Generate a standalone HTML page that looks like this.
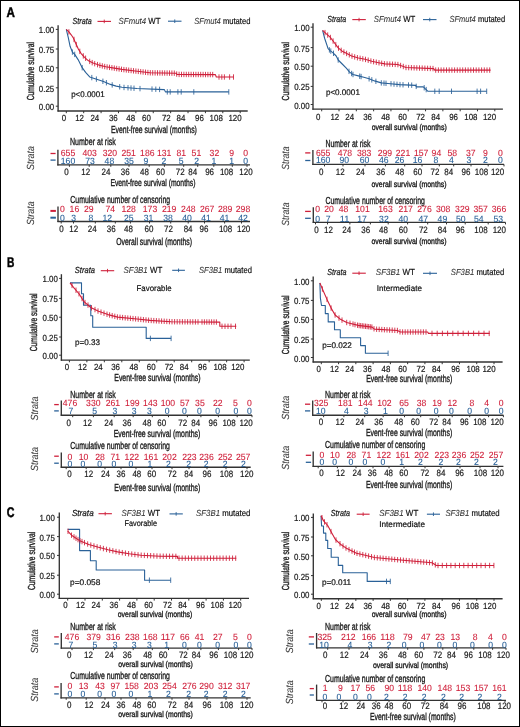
<!DOCTYPE html>
<html><head><meta charset="utf-8"><title>Figure</title>
<style>
html,body{margin:0;padding:0;background:#fff;}
body{width:520px;height:727px;overflow:hidden;}
#fig{position:absolute;left:0;top:0;width:520px;height:727px;box-sizing:border-box;border:1px solid #000;background:#fff;}
svg{position:absolute;left:0;top:0;}
svg text{font-family:"Liberation Sans", sans-serif;text-rendering:geometricPrecision;}
svg{will-change:transform;}
</style></head><body>
<div id="fig"></div>
<svg width="520" height="727" viewBox="0 0 520 727" fill="#1a1a1a">
<line x1="58.1" y1="25.3" x2="58.1" y2="111.6" stroke="#333333" stroke-width="1.35"/>
<line x1="57.5" y1="111" x2="247.7" y2="111" stroke="#333333" stroke-width="1.35"/>
<line x1="55.8" y1="29.4" x2="58.1" y2="29.4" stroke="#333333" stroke-width="1"/>
<text x="54.2" y="33.4" font-size="8.8" text-anchor="end" textLength="15.41" lengthAdjust="spacingAndGlyphs" stroke="#1a1a1a" stroke-width="0.2">1.00</text>
<line x1="55.8" y1="49" x2="58.1" y2="49" stroke="#333333" stroke-width="1"/>
<text x="54.2" y="53" font-size="8.8" text-anchor="end" textLength="15.41" lengthAdjust="spacingAndGlyphs" stroke="#1a1a1a" stroke-width="0.2">0.75</text>
<line x1="55.8" y1="67.8" x2="58.1" y2="67.8" stroke="#333333" stroke-width="1"/>
<text x="54.2" y="71.8" font-size="8.8" text-anchor="end" textLength="15.41" lengthAdjust="spacingAndGlyphs" stroke="#1a1a1a" stroke-width="0.2">0.50</text>
<line x1="55.8" y1="87.8" x2="58.1" y2="87.8" stroke="#333333" stroke-width="1"/>
<text x="54.2" y="91.8" font-size="8.8" text-anchor="end" textLength="15.41" lengthAdjust="spacingAndGlyphs" stroke="#1a1a1a" stroke-width="0.2">0.25</text>
<line x1="55.8" y1="106.2" x2="58.1" y2="106.2" stroke="#333333" stroke-width="1"/>
<text x="54.2" y="110.2" font-size="8.8" text-anchor="end" textLength="15.41" lengthAdjust="spacingAndGlyphs" stroke="#1a1a1a" stroke-width="0.2">0.00</text>
<text x="34.1" y="71.2" font-size="10.2" text-anchor="middle" textLength="58.3" lengthAdjust="spacingAndGlyphs" transform="rotate(-90 34.1 71.2)" stroke="#1a1a1a" stroke-width="0.35">Cumulative survival</text>
<line x1="66.3" y1="111" x2="66.3" y2="113.2" stroke="#333333" stroke-width="1"/>
<text x="64" y="120.8" font-size="8.8" text-anchor="middle" textLength="4.4" lengthAdjust="spacingAndGlyphs" stroke="#1a1a1a" stroke-width="0.2">0</text>
<line x1="83.69" y1="111" x2="83.69" y2="113.2" stroke="#333333" stroke-width="1"/>
<text x="79.6" y="120.8" font-size="8.8" text-anchor="middle" textLength="8.81" lengthAdjust="spacingAndGlyphs" stroke="#1a1a1a" stroke-width="0.2">12</text>
<line x1="101.08" y1="111" x2="101.08" y2="113.2" stroke="#333333" stroke-width="1"/>
<text x="94.8" y="120.8" font-size="8.8" text-anchor="middle" textLength="8.81" lengthAdjust="spacingAndGlyphs" stroke="#1a1a1a" stroke-width="0.2">24</text>
<line x1="118.47" y1="111" x2="118.47" y2="113.2" stroke="#333333" stroke-width="1"/>
<text x="113.3" y="120.8" font-size="8.8" text-anchor="middle" textLength="8.81" lengthAdjust="spacingAndGlyphs" stroke="#1a1a1a" stroke-width="0.2">36</text>
<line x1="135.86" y1="111" x2="135.86" y2="113.2" stroke="#333333" stroke-width="1"/>
<text x="130.7" y="120.8" font-size="8.8" text-anchor="middle" textLength="8.81" lengthAdjust="spacingAndGlyphs" stroke="#1a1a1a" stroke-width="0.2">48</text>
<line x1="153.25" y1="111" x2="153.25" y2="113.2" stroke="#333333" stroke-width="1"/>
<text x="146.5" y="120.8" font-size="8.8" text-anchor="middle" textLength="8.81" lengthAdjust="spacingAndGlyphs" stroke="#1a1a1a" stroke-width="0.2">60</text>
<line x1="170.64" y1="111" x2="170.64" y2="113.2" stroke="#333333" stroke-width="1"/>
<text x="166.3" y="120.8" font-size="8.8" text-anchor="middle" textLength="8.81" lengthAdjust="spacingAndGlyphs" stroke="#1a1a1a" stroke-width="0.2">72</text>
<line x1="188.03" y1="111" x2="188.03" y2="113.2" stroke="#333333" stroke-width="1"/>
<text x="180.9" y="120.8" font-size="8.8" text-anchor="middle" textLength="8.81" lengthAdjust="spacingAndGlyphs" stroke="#1a1a1a" stroke-width="0.2">84</text>
<line x1="205.42" y1="111" x2="205.42" y2="113.2" stroke="#333333" stroke-width="1"/>
<text x="199.4" y="120.8" font-size="8.8" text-anchor="middle" textLength="8.81" lengthAdjust="spacingAndGlyphs" stroke="#1a1a1a" stroke-width="0.2">96</text>
<line x1="222.81" y1="111" x2="222.81" y2="113.2" stroke="#333333" stroke-width="1"/>
<text x="216.2" y="120.8" font-size="8.8" text-anchor="middle" textLength="13.21" lengthAdjust="spacingAndGlyphs" stroke="#1a1a1a" stroke-width="0.2">108</text>
<line x1="240.2" y1="111" x2="240.2" y2="113.2" stroke="#333333" stroke-width="1"/>
<text x="235" y="120.8" font-size="8.8" text-anchor="middle" textLength="13.21" lengthAdjust="spacingAndGlyphs" stroke="#1a1a1a" stroke-width="0.2">120</text>
<text x="111" y="133.3" font-size="10.2" textLength="85.9" lengthAdjust="spacingAndGlyphs" stroke="#1a1a1a" stroke-width="0.35">Event-free survival (months)</text>
<text x="71.2" y="96.6" font-size="8.2" fill="#111" textLength="33.4" lengthAdjust="spacingAndGlyphs" stroke="#111" stroke-width="0.2">p&lt;0.0001</text>
<polyline points="66.3,29.3 68.3,37.7 70.1,46.3 72.4,52.1 74.7,54.4 78.1,59.6 82.2,67.7 85.6,72.3 89.7,76.9 96.6,79.2 103.5,81.5 110.4,84.4 116.2,86.1 122,87.3 137,88.5 164.4,89.6 165.4,91.9 228.8,91.9" fill="none" stroke="#2a6198" stroke-width="1.1" stroke-linejoin="round"/>
<path d="M72.4 49.4v5.4 M74.7 51.7v5.4 M82.2 65v5.4 M91.8 74.9v5.4 M96.4 76.43v5.4 M102.9 78.6v5.4 M106.4 80.02v5.4 M112.2 82.23v5.4 M119.7 84.12v5.4 M124 84.76v5.4 M128 85.08v5.4 M131 85.32v5.4 M134 85.56v5.4 M140 85.92v5.4 M152 86.4v5.4 M155.8 86.55v5.4 M159.6 86.71v5.4 M167.3 89.2v5.4 M170.2 89.2v5.4 M177.9 89.2v5.4 M181.2 89.2v5.4 M193.8 89.2v5.4 M228.8 89.2v5.4" stroke="#2a6198" stroke-width="0.85" fill="none"/>
<polyline points="66.3,29.3 68.9,31.9 71.2,34.8 73.5,38.3 75.8,43.5 78.1,48.6 81,53.3 84.5,57.3 88.5,60.8 93.1,63.1 98.9,65.1 105.8,66.8 112.8,67.9 122,69.4 135,71 150,72.8 176,73.2 177,74.4 215.4,74.6 216.3,77 233.7,77" fill="none" stroke="#cf1f3a" stroke-width="1.1" stroke-linejoin="round"/>
<path d="M68.9 29.2v5.4 M74 36.73v5.4 M76.3 41.91v5.4 M79.8 48.66v5.4 M83.3 53.23v5.4 M85.6 55.56v5.4 M89.7 58.7v5.4 M92.2 59.95v5.4 M94.7 60.95v5.4 M97.5 61.92v5.4 M99.9 62.65v5.4 M102.3 63.24v5.4 M104.7 63.83v5.4 M107.1 64.3v5.4 M109.5 64.68v5.4 M111.9 65.06v5.4 M114.3 65.44v5.4 M116.7 65.84v5.4 M119.1 66.23v5.4 M121.5 66.62v5.4 M123.9 66.93v5.4 M126.3 67.23v5.4 M128.7 67.52v5.4 M131.1 67.82v5.4 M133.5 68.12v5.4 M135.9 68.41v5.4 M138.3 68.7v5.4 M140.7 68.98v5.4 M143.1 69.27v5.4 M145.5 69.56v5.4 M147.9 69.85v5.4 M150.3 70.1v5.4 M152.7 70.14v5.4 M155.1 70.18v5.4 M157.5 70.22v5.4 M159.9 70.25v5.4 M162.3 70.29v5.4 M164.7 70.33v5.4 M167.1 70.36v5.4 M169.5 70.4v5.4 M171.9 70.44v5.4 M174.3 70.47v5.4 M176.7 71.34v5.4 M179.1 71.71v5.4 M181.5 71.72v5.4 M183.9 71.74v5.4 M186.3 71.75v5.4 M188.7 71.76v5.4 M191.1 71.77v5.4 M193.5 71.79v5.4 M195.9 71.8v5.4 M198.3 71.81v5.4 M200.7 71.82v5.4 M203.1 71.84v5.4 M205.5 71.85v5.4 M207.9 71.86v5.4 M210.3 71.87v5.4 M212.7 71.89v5.4 M219 74.3v5.4 M221.8 74.3v5.4 M224.4 74.3v5.4 M229.6 74.3v5.4 M233.5 74.3v5.4" stroke="#cf1f3a" stroke-width="0.85" fill="none"/>
<text x="72.5" y="24.1" font-size="8.8" fill="#111" font-style="italic" textLength="19.2" lengthAdjust="spacingAndGlyphs" stroke="#111" stroke-width="0.2">Strata</text>
<line x1="97.5" y1="21.4" x2="111" y2="21.4" stroke="#cf1f3a" stroke-width="1.1"/>
<line x1="104.25" y1="19.6" x2="104.25" y2="23.2" stroke="#cf1f3a" stroke-width="0.9"/>
<line x1="168" y1="21.2" x2="181.5" y2="21.2" stroke="#2a6198" stroke-width="1.1"/>
<line x1="174.75" y1="19.4" x2="174.75" y2="23" stroke="#2a6198" stroke-width="0.9"/>
<text x="118.6" y="24.1" font-size="8.8" textLength="41.9" lengthAdjust="spacingAndGlyphs" fill="#111" stroke="#111" stroke-width="0.2"><tspan font-style="italic" fill="#3a3a3a" stroke-width="0.08">SFmut4</tspan> WT</text>
<text x="194.2" y="24.1" font-size="8.8" textLength="56.2" lengthAdjust="spacingAndGlyphs" fill="#111" stroke="#111" stroke-width="0.2"><tspan font-style="italic" fill="#3a3a3a" stroke-width="0.08">SFmut4</tspan> mutated</text>
<line x1="313" y1="23.2" x2="313" y2="109.7" stroke="#333333" stroke-width="1.35"/>
<line x1="312.4" y1="109.1" x2="502.9" y2="109.1" stroke="#333333" stroke-width="1.35"/>
<line x1="310.7" y1="27.2" x2="313" y2="27.2" stroke="#333333" stroke-width="1"/>
<text x="309.6" y="31.2" font-size="8.8" text-anchor="end" textLength="15.41" lengthAdjust="spacingAndGlyphs" stroke="#1a1a1a" stroke-width="0.2">1.00</text>
<line x1="310.7" y1="47.6" x2="313" y2="47.6" stroke="#333333" stroke-width="1"/>
<text x="309.6" y="51.6" font-size="8.8" text-anchor="end" textLength="15.41" lengthAdjust="spacingAndGlyphs" stroke="#1a1a1a" stroke-width="0.2">0.75</text>
<line x1="310.7" y1="66.2" x2="313" y2="66.2" stroke="#333333" stroke-width="1"/>
<text x="309.6" y="70.2" font-size="8.8" text-anchor="end" textLength="15.41" lengthAdjust="spacingAndGlyphs" stroke="#1a1a1a" stroke-width="0.2">0.50</text>
<line x1="310.7" y1="86.4" x2="313" y2="86.4" stroke="#333333" stroke-width="1"/>
<text x="309.6" y="90.4" font-size="8.8" text-anchor="end" textLength="15.41" lengthAdjust="spacingAndGlyphs" stroke="#1a1a1a" stroke-width="0.2">0.25</text>
<line x1="310.7" y1="104.5" x2="313" y2="104.5" stroke="#333333" stroke-width="1"/>
<text x="309.6" y="108.5" font-size="8.8" text-anchor="end" textLength="15.41" lengthAdjust="spacingAndGlyphs" stroke="#1a1a1a" stroke-width="0.2">0.00</text>
<text x="289" y="71.2" font-size="10.2" text-anchor="middle" textLength="58.4" lengthAdjust="spacingAndGlyphs" transform="rotate(-90 289 71.2)" stroke="#1a1a1a" stroke-width="0.35">Cumulative survival</text>
<line x1="321.7" y1="109.1" x2="321.7" y2="111.3" stroke="#333333" stroke-width="1"/>
<text x="318.2" y="120" font-size="8.8" text-anchor="middle" textLength="4.4" lengthAdjust="spacingAndGlyphs" stroke="#1a1a1a" stroke-width="0.2">0</text>
<line x1="339.01" y1="109.1" x2="339.01" y2="111.3" stroke="#333333" stroke-width="1"/>
<text x="334.8" y="120" font-size="8.8" text-anchor="middle" textLength="8.81" lengthAdjust="spacingAndGlyphs" stroke="#1a1a1a" stroke-width="0.2">12</text>
<line x1="356.32" y1="109.1" x2="356.32" y2="111.3" stroke="#333333" stroke-width="1"/>
<text x="349.7" y="120" font-size="8.8" text-anchor="middle" textLength="8.81" lengthAdjust="spacingAndGlyphs" stroke="#1a1a1a" stroke-width="0.2">24</text>
<line x1="373.63" y1="109.1" x2="373.63" y2="111.3" stroke="#333333" stroke-width="1"/>
<text x="367.6" y="120" font-size="8.8" text-anchor="middle" textLength="8.81" lengthAdjust="spacingAndGlyphs" stroke="#1a1a1a" stroke-width="0.2">36</text>
<line x1="390.94" y1="109.1" x2="390.94" y2="111.3" stroke="#333333" stroke-width="1"/>
<text x="385.6" y="120" font-size="8.8" text-anchor="middle" textLength="8.81" lengthAdjust="spacingAndGlyphs" stroke="#1a1a1a" stroke-width="0.2">48</text>
<line x1="408.25" y1="109.1" x2="408.25" y2="111.3" stroke="#333333" stroke-width="1"/>
<text x="402.6" y="120" font-size="8.8" text-anchor="middle" textLength="8.81" lengthAdjust="spacingAndGlyphs" stroke="#1a1a1a" stroke-width="0.2">60</text>
<line x1="425.56" y1="109.1" x2="425.56" y2="111.3" stroke="#333333" stroke-width="1"/>
<text x="420.6" y="120" font-size="8.8" text-anchor="middle" textLength="8.81" lengthAdjust="spacingAndGlyphs" stroke="#1a1a1a" stroke-width="0.2">72</text>
<line x1="442.87" y1="109.1" x2="442.87" y2="111.3" stroke="#333333" stroke-width="1"/>
<text x="435.7" y="120" font-size="8.8" text-anchor="middle" textLength="8.81" lengthAdjust="spacingAndGlyphs" stroke="#1a1a1a" stroke-width="0.2">84</text>
<line x1="460.18" y1="109.1" x2="460.18" y2="111.3" stroke="#333333" stroke-width="1"/>
<text x="453.6" y="120" font-size="8.8" text-anchor="middle" textLength="8.81" lengthAdjust="spacingAndGlyphs" stroke="#1a1a1a" stroke-width="0.2">96</text>
<line x1="477.49" y1="109.1" x2="477.49" y2="111.3" stroke="#333333" stroke-width="1"/>
<text x="470.9" y="120" font-size="8.8" text-anchor="middle" textLength="13.21" lengthAdjust="spacingAndGlyphs" stroke="#1a1a1a" stroke-width="0.2">108</text>
<line x1="494.8" y1="109.1" x2="494.8" y2="111.3" stroke="#333333" stroke-width="1"/>
<text x="489.5" y="120" font-size="8.8" text-anchor="middle" textLength="13.21" lengthAdjust="spacingAndGlyphs" stroke="#1a1a1a" stroke-width="0.2">120</text>
<text x="371.7" y="129.7" font-size="8.4" textLength="75" lengthAdjust="spacingAndGlyphs" stroke="#1a1a1a" stroke-width="0.35">overall survival (months)</text>
<text x="325.9" y="94.5" font-size="8.2" fill="#111" textLength="34" lengthAdjust="spacingAndGlyphs" stroke="#111" stroke-width="0.2">p&lt;0.0001</text>
<polyline points="322.6,30.3 324.7,38.5 328.1,48.6 330.1,50.6 332.8,52.6 336.2,56 338.2,60 342.2,64 346.3,68.1 349.6,72.1 353,74.5 358.4,75.9 363.8,77.2 369.1,78.8 374.5,80.9 381.3,82.9 388,83.5 399.6,84.6 415.6,85.4 416.5,86.9 423.3,86.9 428,91.3 486.7,91.3" fill="none" stroke="#2a6198" stroke-width="1.1" stroke-linejoin="round"/>
<path d="M329.4 47.2v5.4 M330.8 48.42v5.4 M333.5 50.6v5.4 M338.2 57.3v5.4 M349 68.67v5.4 M351.6 70.81v5.4 M353 71.8v5.4 M359.7 73.51v5.4 M361.1 73.85v5.4 M369.1 76.1v5.4 M371.8 77.15v5.4 M375.9 78.61v5.4 M381.3 80.2v5.4 M384 80.44v5.4 M386 80.62v5.4 M391 81.08v5.4 M394 81.37v5.4 M397 81.65v5.4 M400 81.92v5.4 M403 82.07v5.4 M408.5 82.34v5.4 M411.7 82.5v5.4 M416.2 83.7v5.4 M424.2 85.04v5.4 M426.2 86.91v5.4 M434.8 88.6v5.4 M439.2 88.6v5.4 M451.5 88.6v5.4 M477.1 88.6v5.4 M480.6 88.6v5.4 M486.7 88.6v5.4" stroke="#2a6198" stroke-width="0.85" fill="none"/>
<polyline points="322.6,30.3 326.1,33.7 330.1,37.1 334.2,42.5 338.2,47.9 342.2,51.2 346.3,53.3 351.6,56 358.4,58 365.1,59.3 371.8,61.3 378.6,62.7 385,63.9 397.7,64.5 402,66 406,67.5 433.6,68.6 434.7,70.1 490.6,70.1" fill="none" stroke="#cf1f3a" stroke-width="1.1" stroke-linejoin="round"/>
<path d="M325 29.93v5.4 M327.7 32.36v5.4 M330.4 34.8v5.4 M333.1 38.35v5.4 M335.8 41.96v5.4 M338.5 45.45v5.4 M341.2 47.67v5.4 M343.9 49.37v5.4 M346.6 50.75v5.4 M349.3 52.13v5.4 M352 53.42v5.4 M354.7 54.21v5.4 M357.4 55.01v5.4 M360.1 55.63v5.4 M362.8 56.15v5.4 M365.5 56.72v5.4 M368.2 57.53v5.4 M370.9 58.33v5.4 M373.6 58.97v5.4 M376.3 59.53v5.4 M379 60.07v5.4 M381.7 60.58v5.4 M384.4 61.09v5.4 M387.1 61.3v5.4 M389.8 61.43v5.4 M392.5 61.55v5.4 M395.2 61.68v5.4 M397.9 61.87v5.4 M400.6 62.81v5.4 M403.3 63.79v5.4 M406 64.8v5.4 M408.7 64.91v5.4 M411.4 65.02v5.4 M414.1 65.12v5.4 M416.8 65.23v5.4 M419.5 65.34v5.4 M422.2 65.45v5.4 M424.9 65.55v5.4 M427.6 65.66v5.4 M430.3 65.77v5.4 M433 65.88v5.4 M435.7 67.4v5.4 M438.4 67.4v5.4 M441.1 67.4v5.4 M443.8 67.4v5.4 M446.5 67.4v5.4 M449.2 67.4v5.4 M451.9 67.4v5.4 M454.6 67.4v5.4 M457.3 67.4v5.4 M460 67.4v5.4 M462.7 67.4v5.4 M465.4 67.4v5.4 M468.1 67.4v5.4 M470.8 67.4v5.4 M473.5 67.4v5.4 M476.2 67.4v5.4 M478.9 67.4v5.4 M481.6 67.4v5.4 M484.3 67.4v5.4 M487 67.4v5.4 M489.7 67.4v5.4" stroke="#cf1f3a" stroke-width="0.85" fill="none"/>
<text x="327.3" y="22.1" font-size="8.8" fill="#111" font-style="italic" textLength="18.9" lengthAdjust="spacingAndGlyphs" stroke="#111" stroke-width="0.2">Strata</text>
<line x1="352.3" y1="19.6" x2="365.8" y2="19.6" stroke="#cf1f3a" stroke-width="1.1"/>
<line x1="359.05" y1="17.8" x2="359.05" y2="21.4" stroke="#cf1f3a" stroke-width="0.9"/>
<line x1="423" y1="19.6" x2="436.5" y2="19.6" stroke="#2a6198" stroke-width="1.1"/>
<line x1="429.75" y1="17.8" x2="429.75" y2="21.4" stroke="#2a6198" stroke-width="0.9"/>
<text x="373.8" y="22.1" font-size="8.8" textLength="41.4" lengthAdjust="spacingAndGlyphs" fill="#111" stroke="#111" stroke-width="0.2"><tspan font-style="italic" fill="#3a3a3a" stroke-width="0.08">SFmut4</tspan> WT</text>
<text x="449.4" y="22.1" font-size="8.8" textLength="55.8" lengthAdjust="spacingAndGlyphs" fill="#111" stroke="#111" stroke-width="0.2"><tspan font-style="italic" fill="#3a3a3a" stroke-width="0.08">SFmut4</tspan> mutated</text>
<line x1="61.4" y1="274.2" x2="61.4" y2="360.7" stroke="#333333" stroke-width="1.35"/>
<line x1="60.8" y1="360.1" x2="249.8" y2="360.1" stroke="#333333" stroke-width="1.35"/>
<line x1="59.1" y1="278.4" x2="61.4" y2="278.4" stroke="#333333" stroke-width="1"/>
<text x="57.9" y="282.4" font-size="8.8" text-anchor="end" textLength="15.41" lengthAdjust="spacingAndGlyphs" stroke="#1a1a1a" stroke-width="0.2">1.00</text>
<line x1="59.1" y1="298.4" x2="61.4" y2="298.4" stroke="#333333" stroke-width="1"/>
<text x="57.9" y="302.4" font-size="8.8" text-anchor="end" textLength="15.41" lengthAdjust="spacingAndGlyphs" stroke="#1a1a1a" stroke-width="0.2">0.75</text>
<line x1="59.1" y1="317.2" x2="61.4" y2="317.2" stroke="#333333" stroke-width="1"/>
<text x="57.9" y="321.2" font-size="8.8" text-anchor="end" textLength="15.41" lengthAdjust="spacingAndGlyphs" stroke="#1a1a1a" stroke-width="0.2">0.50</text>
<line x1="59.1" y1="337" x2="61.4" y2="337" stroke="#333333" stroke-width="1"/>
<text x="57.9" y="341" font-size="8.8" text-anchor="end" textLength="15.41" lengthAdjust="spacingAndGlyphs" stroke="#1a1a1a" stroke-width="0.2">0.25</text>
<line x1="59.1" y1="355.2" x2="61.4" y2="355.2" stroke="#333333" stroke-width="1"/>
<text x="57.9" y="359.2" font-size="8.8" text-anchor="end" textLength="15.41" lengthAdjust="spacingAndGlyphs" stroke="#1a1a1a" stroke-width="0.2">0.00</text>
<text x="36.9" y="322.3" font-size="10.2" text-anchor="middle" textLength="57.8" lengthAdjust="spacingAndGlyphs" transform="rotate(-90 36.9 322.3)" stroke="#1a1a1a" stroke-width="0.35">Cumulative survival</text>
<line x1="69.4" y1="360.1" x2="69.4" y2="362.3" stroke="#333333" stroke-width="1"/>
<text x="67" y="369.9" font-size="8.8" text-anchor="middle" textLength="4.4" lengthAdjust="spacingAndGlyphs" stroke="#1a1a1a" stroke-width="0.2">0</text>
<line x1="86.87" y1="360.1" x2="86.87" y2="362.3" stroke="#333333" stroke-width="1"/>
<text x="82.5" y="369.9" font-size="8.8" text-anchor="middle" textLength="8.81" lengthAdjust="spacingAndGlyphs" stroke="#1a1a1a" stroke-width="0.2">12</text>
<line x1="104.34" y1="360.1" x2="104.34" y2="362.3" stroke="#333333" stroke-width="1"/>
<text x="98.3" y="369.9" font-size="8.8" text-anchor="middle" textLength="8.81" lengthAdjust="spacingAndGlyphs" stroke="#1a1a1a" stroke-width="0.2">24</text>
<line x1="121.81" y1="360.1" x2="121.81" y2="362.3" stroke="#333333" stroke-width="1"/>
<text x="115.6" y="369.9" font-size="8.8" text-anchor="middle" textLength="8.81" lengthAdjust="spacingAndGlyphs" stroke="#1a1a1a" stroke-width="0.2">36</text>
<line x1="139.28" y1="360.1" x2="139.28" y2="362.3" stroke="#333333" stroke-width="1"/>
<text x="133.8" y="369.9" font-size="8.8" text-anchor="middle" textLength="8.81" lengthAdjust="spacingAndGlyphs" stroke="#1a1a1a" stroke-width="0.2">48</text>
<line x1="156.75" y1="360.1" x2="156.75" y2="362.3" stroke="#333333" stroke-width="1"/>
<text x="151.2" y="369.9" font-size="8.8" text-anchor="middle" textLength="8.81" lengthAdjust="spacingAndGlyphs" stroke="#1a1a1a" stroke-width="0.2">60</text>
<line x1="174.22" y1="360.1" x2="174.22" y2="362.3" stroke="#333333" stroke-width="1"/>
<text x="169.1" y="369.9" font-size="8.8" text-anchor="middle" textLength="8.81" lengthAdjust="spacingAndGlyphs" stroke="#1a1a1a" stroke-width="0.2">72</text>
<line x1="191.69" y1="360.1" x2="191.69" y2="362.3" stroke="#333333" stroke-width="1"/>
<text x="184.2" y="369.9" font-size="8.8" text-anchor="middle" textLength="8.81" lengthAdjust="spacingAndGlyphs" stroke="#1a1a1a" stroke-width="0.2">84</text>
<line x1="209.16" y1="360.1" x2="209.16" y2="362.3" stroke="#333333" stroke-width="1"/>
<text x="202.4" y="369.9" font-size="8.8" text-anchor="middle" textLength="8.81" lengthAdjust="spacingAndGlyphs" stroke="#1a1a1a" stroke-width="0.2">96</text>
<line x1="226.63" y1="360.1" x2="226.63" y2="362.3" stroke="#333333" stroke-width="1"/>
<text x="220" y="369.9" font-size="8.8" text-anchor="middle" textLength="13.21" lengthAdjust="spacingAndGlyphs" stroke="#1a1a1a" stroke-width="0.2">108</text>
<line x1="244.1" y1="360.1" x2="244.1" y2="362.3" stroke="#333333" stroke-width="1"/>
<text x="237.8" y="369.9" font-size="8.8" text-anchor="middle" textLength="13.21" lengthAdjust="spacingAndGlyphs" stroke="#1a1a1a" stroke-width="0.2">120</text>
<text x="114.3" y="380.6" font-size="10.2" textLength="86.2" lengthAdjust="spacingAndGlyphs" stroke="#1a1a1a" stroke-width="0.35">Event-free survival (months)</text>
<text x="75" y="345.4" font-size="8.2" fill="#111" textLength="25" lengthAdjust="spacingAndGlyphs" stroke="#111" stroke-width="0.2">p=0.33</text>
<text x="136.5" y="291" font-size="8.2" fill="#111" textLength="35.1" lengthAdjust="spacingAndGlyphs" stroke="#111" stroke-width="0.2">Favorable</text>
<polyline points="70,282.9 81.5,282.9 81.5,293.7 83.5,293.7 83.5,305.2 90.8,305.2 90.8,315.8 92.7,315.8 92.7,327.3 146.2,327.3 146.2,338.4 171.1,338.4" fill="none" stroke="#2a6198" stroke-width="1.1" stroke-linejoin="round"/>
<path d="M150.4 335.7v5.4 M171.1 335.7v5.4" stroke="#2a6198" stroke-width="0.85" fill="none"/>
<polyline points="70,282.9 73.5,287.3 79.2,294 84,301.7 90.8,307.5 98.5,311.3 108,314.6 117.7,317.1 137,319 150,320.4 171.1,321.7 219.8,322.1 219.8,326.3 236.3,326.3" fill="none" stroke="#cf1f3a" stroke-width="1.1" stroke-linejoin="round"/>
<path d="M72 282.71v5.4 M76 287.54v5.4 M79 291.06v5.4 M82 295.79v5.4 M85 299.85v5.4 M88 302.41v5.4 M91.5 305.15v5.4 M95 306.87v5.4 M98 308.35v5.4 M101 309.47v5.4 M104 310.51v5.4 M107 311.55v5.4 M109.6 312.31v5.4 M112.2 312.98v5.4 M114.8 313.65v5.4 M117.4 314.32v5.4 M120 314.63v5.4 M122.6 314.88v5.4 M125.2 315.14v5.4 M127.8 315.39v5.4 M130.4 315.65v5.4 M133 315.91v5.4 M135.6 316.16v5.4 M138.2 316.43v5.4 M140.8 316.71v5.4 M143.4 316.99v5.4 M146 317.27v5.4 M148.6 317.55v5.4 M151.2 317.77v5.4 M153.8 317.93v5.4 M156.4 318.09v5.4 M159 318.25v5.4 M161.6 318.41v5.4 M164.2 318.57v5.4 M166.8 318.74v5.4 M169.4 318.9v5.4 M172 319.01v5.4 M174.6 319.03v5.4 M177.2 319.05v5.4 M179.8 319.07v5.4 M182.4 319.09v5.4 M185 319.11v5.4 M187.6 319.14v5.4 M190.2 319.16v5.4 M192.8 319.18v5.4 M195.4 319.2v5.4 M198 319.22v5.4 M202 319.25v5.4 M204.4 319.27v5.4 M206.8 319.29v5.4 M209.2 319.31v5.4 M211.6 319.33v5.4 M214 319.35v5.4 M216.4 319.37v5.4 M222 323.6v5.4 M225 323.6v5.4 M228 323.6v5.4 M231 323.6v5.4 M235.5 323.6v5.4" stroke="#cf1f3a" stroke-width="0.85" fill="none"/>
<text x="74.8" y="273.1" font-size="8.8" fill="#111" font-style="italic" textLength="20.2" lengthAdjust="spacingAndGlyphs" stroke="#111" stroke-width="0.2">Strata</text>
<line x1="100.8" y1="270.7" x2="114.2" y2="270.7" stroke="#cf1f3a" stroke-width="1.1"/>
<line x1="107.5" y1="268.9" x2="107.5" y2="272.5" stroke="#cf1f3a" stroke-width="0.9"/>
<line x1="172.2" y1="270.3" x2="184.9" y2="270.3" stroke="#2a6198" stroke-width="1.1"/>
<line x1="178.55" y1="268.5" x2="178.55" y2="272.1" stroke="#2a6198" stroke-width="0.9"/>
<text x="123.5" y="273.1" font-size="8.8" textLength="38.8" lengthAdjust="spacingAndGlyphs" fill="#111" stroke="#111" stroke-width="0.2"><tspan font-style="italic" fill="#3a3a3a" stroke-width="0.08">SF3B1</tspan> WT</text>
<text x="199" y="273.1" font-size="8.8" textLength="52.9" lengthAdjust="spacingAndGlyphs" fill="#111" stroke="#111" stroke-width="0.2"><tspan font-style="italic" fill="#3a3a3a" stroke-width="0.08">SF3B1</tspan> mutated</text>
<line x1="313.2" y1="276.4" x2="313.2" y2="362.6" stroke="#333333" stroke-width="1.35"/>
<line x1="312.6" y1="362" x2="502.6" y2="362" stroke="#333333" stroke-width="1.35"/>
<line x1="310.9" y1="280.8" x2="313.2" y2="280.8" stroke="#333333" stroke-width="1"/>
<text x="309.5" y="284.8" font-size="8.8" text-anchor="end" textLength="15.41" lengthAdjust="spacingAndGlyphs" stroke="#1a1a1a" stroke-width="0.2">1.00</text>
<line x1="310.9" y1="300.4" x2="313.2" y2="300.4" stroke="#333333" stroke-width="1"/>
<text x="309.5" y="304.4" font-size="8.8" text-anchor="end" textLength="15.41" lengthAdjust="spacingAndGlyphs" stroke="#1a1a1a" stroke-width="0.2">0.75</text>
<line x1="310.9" y1="319.4" x2="313.2" y2="319.4" stroke="#333333" stroke-width="1"/>
<text x="309.5" y="323.4" font-size="8.8" text-anchor="end" textLength="15.41" lengthAdjust="spacingAndGlyphs" stroke="#1a1a1a" stroke-width="0.2">0.50</text>
<line x1="310.9" y1="339" x2="313.2" y2="339" stroke="#333333" stroke-width="1"/>
<text x="309.5" y="343" font-size="8.8" text-anchor="end" textLength="15.41" lengthAdjust="spacingAndGlyphs" stroke="#1a1a1a" stroke-width="0.2">0.25</text>
<line x1="310.9" y1="357.5" x2="313.2" y2="357.5" stroke="#333333" stroke-width="1"/>
<text x="309.5" y="361.5" font-size="8.8" text-anchor="end" textLength="15.41" lengthAdjust="spacingAndGlyphs" stroke="#1a1a1a" stroke-width="0.2">0.00</text>
<text x="289.2" y="324.9" font-size="10.2" text-anchor="middle" textLength="58.6" lengthAdjust="spacingAndGlyphs" transform="rotate(-90 289.2 324.9)" stroke="#1a1a1a" stroke-width="0.35">Cumulative survival</text>
<line x1="321.3" y1="362" x2="321.3" y2="364.2" stroke="#333333" stroke-width="1"/>
<text x="318.7" y="372.2" font-size="8.8" text-anchor="middle" textLength="4.4" lengthAdjust="spacingAndGlyphs" stroke="#1a1a1a" stroke-width="0.2">0</text>
<line x1="338.57" y1="362" x2="338.57" y2="364.2" stroke="#333333" stroke-width="1"/>
<text x="334.4" y="372.2" font-size="8.8" text-anchor="middle" textLength="8.81" lengthAdjust="spacingAndGlyphs" stroke="#1a1a1a" stroke-width="0.2">12</text>
<line x1="355.84" y1="362" x2="355.84" y2="364.2" stroke="#333333" stroke-width="1"/>
<text x="349.7" y="372.2" font-size="8.8" text-anchor="middle" textLength="8.81" lengthAdjust="spacingAndGlyphs" stroke="#1a1a1a" stroke-width="0.2">24</text>
<line x1="373.11" y1="362" x2="373.11" y2="364.2" stroke="#333333" stroke-width="1"/>
<text x="367.5" y="372.2" font-size="8.8" text-anchor="middle" textLength="8.81" lengthAdjust="spacingAndGlyphs" stroke="#1a1a1a" stroke-width="0.2">36</text>
<line x1="390.38" y1="362" x2="390.38" y2="364.2" stroke="#333333" stroke-width="1"/>
<text x="386" y="372.2" font-size="8.8" text-anchor="middle" textLength="8.81" lengthAdjust="spacingAndGlyphs" stroke="#1a1a1a" stroke-width="0.2">48</text>
<line x1="407.65" y1="362" x2="407.65" y2="364.2" stroke="#333333" stroke-width="1"/>
<text x="402.6" y="372.2" font-size="8.8" text-anchor="middle" textLength="8.81" lengthAdjust="spacingAndGlyphs" stroke="#1a1a1a" stroke-width="0.2">60</text>
<line x1="424.92" y1="362" x2="424.92" y2="364.2" stroke="#333333" stroke-width="1"/>
<text x="421" y="372.2" font-size="8.8" text-anchor="middle" textLength="8.81" lengthAdjust="spacingAndGlyphs" stroke="#1a1a1a" stroke-width="0.2">72</text>
<line x1="442.19" y1="362" x2="442.19" y2="364.2" stroke="#333333" stroke-width="1"/>
<text x="436.4" y="372.2" font-size="8.8" text-anchor="middle" textLength="8.81" lengthAdjust="spacingAndGlyphs" stroke="#1a1a1a" stroke-width="0.2">84</text>
<line x1="459.46" y1="362" x2="459.46" y2="364.2" stroke="#333333" stroke-width="1"/>
<text x="455.6" y="372.2" font-size="8.8" text-anchor="middle" textLength="8.81" lengthAdjust="spacingAndGlyphs" stroke="#1a1a1a" stroke-width="0.2">96</text>
<line x1="476.73" y1="362" x2="476.73" y2="364.2" stroke="#333333" stroke-width="1"/>
<text x="473.1" y="372.2" font-size="8.8" text-anchor="middle" textLength="13.21" lengthAdjust="spacingAndGlyphs" stroke="#1a1a1a" stroke-width="0.2">108</text>
<line x1="494" y1="362" x2="494" y2="364.2" stroke="#333333" stroke-width="1"/>
<text x="489" y="372.2" font-size="8.8" text-anchor="middle" textLength="13.21" lengthAdjust="spacingAndGlyphs" stroke="#1a1a1a" stroke-width="0.2">120</text>
<text x="366.2" y="382" font-size="10.2" textLength="86" lengthAdjust="spacingAndGlyphs" stroke="#1a1a1a" stroke-width="0.35">Event-free survival (months)</text>
<text x="322.2" y="347.9" font-size="8.2" fill="#111" textLength="29.7" lengthAdjust="spacingAndGlyphs" stroke="#111" stroke-width="0.2">p=0.022</text>
<text x="376.7" y="290.8" font-size="8.2" fill="#111" textLength="45.3" lengthAdjust="spacingAndGlyphs" stroke="#111" stroke-width="0.2">Intermediate</text>
<polyline points="319.9,282.9 320.1,289.6 320.4,298.2 321.5,305.5 325.3,305.5 325.3,313.6 328.2,313.6 328.2,321.9 334.5,321.9 334.5,329.8 340.3,329.8 340.3,337.8 360.6,337.8 360.6,345.6 365.4,345.6 365.4,353.3 388.1,353.3" fill="none" stroke="#2a6198" stroke-width="1.1" stroke-linejoin="round"/>
<path d="M388.1 350.6v5.4" stroke="#2a6198" stroke-width="0.85" fill="none"/>
<polyline points="319.9,282.9 322.4,289 327,299.4 331.1,308.1 335.1,315 340.9,319.6 346.7,322.5 358.2,325.4 372.1,327.1 374.4,329.1 397.5,330.5 400.3,332 427.7,332 428.5,333.4 489.7,333.4" fill="none" stroke="#cf1f3a" stroke-width="1.1" stroke-linejoin="round"/>
<path d="M322.4 286.3v5.4 M327 296.7v5.4 M331.1 305.4v5.4 M335.1 312.3v5.4 M339 315.39v5.4 M342 317.45v5.4 M346.7 319.8v5.4 M350 320.63v5.4 M353 321.39v5.4 M355 321.89v5.4 M357.5 322.52v5.4 M359.1 322.81v5.4 M360.7 323.01v5.4 M362.3 323.2v5.4 M363.9 323.4v5.4 M365.5 323.59v5.4 M367.1 323.79v5.4 M368.7 323.98v5.4 M370.3 324.18v5.4 M371.9 324.38v5.4 M374 326.05v5.4 M376.6 326.53v5.4 M379.2 326.69v5.4 M381.8 326.85v5.4 M384.4 327.01v5.4 M387 327.16v5.4 M389.6 327.32v5.4 M392.2 327.48v5.4 M394.8 327.64v5.4 M397.4 327.79v5.4 M400 329.14v5.4 M402.6 329.3v5.4 M405.2 329.3v5.4 M407.8 329.3v5.4 M410.4 329.3v5.4 M413 329.3v5.4 M415.6 329.3v5.4 M418.2 329.3v5.4 M420.8 329.3v5.4 M423.4 329.3v5.4 M426 329.3v5.4 M432 330.7v5.4 M437.2 330.7v5.4 M442.4 330.7v5.4 M447.6 330.7v5.4 M452.8 330.7v5.4 M458 330.7v5.4 M463.2 330.7v5.4 M468.4 330.7v5.4 M473.6 330.7v5.4 M478.8 330.7v5.4 M484 330.7v5.4 M489.2 330.7v5.4" stroke="#cf1f3a" stroke-width="0.85" fill="none"/>
<text x="327.3" y="275.4" font-size="8.8" fill="#111" font-style="italic" textLength="19.2" lengthAdjust="spacingAndGlyphs" stroke="#111" stroke-width="0.2">Strata</text>
<line x1="352.3" y1="273.2" x2="365.8" y2="273.2" stroke="#cf1f3a" stroke-width="1.1"/>
<line x1="359.05" y1="271.4" x2="359.05" y2="275" stroke="#cf1f3a" stroke-width="0.9"/>
<line x1="423" y1="273.3" x2="437" y2="273.3" stroke="#2a6198" stroke-width="1.1"/>
<line x1="430" y1="271.5" x2="430" y2="275.1" stroke="#2a6198" stroke-width="0.9"/>
<text x="375.8" y="275.4" font-size="8.8" textLength="39.2" lengthAdjust="spacingAndGlyphs" fill="#111" stroke="#111" stroke-width="0.2"><tspan font-style="italic" fill="#3a3a3a" stroke-width="0.08">SF3B1</tspan> WT</text>
<text x="450.8" y="275.4" font-size="8.8" textLength="53.4" lengthAdjust="spacingAndGlyphs" fill="#111" stroke="#111" stroke-width="0.2"><tspan font-style="italic" fill="#3a3a3a" stroke-width="0.08">SF3B1</tspan> mutated</text>
<line x1="59.3" y1="512.6" x2="59.3" y2="599" stroke="#333333" stroke-width="1.35"/>
<line x1="58.7" y1="598.4" x2="249" y2="598.4" stroke="#333333" stroke-width="1.35"/>
<line x1="57" y1="517.2" x2="59.3" y2="517.2" stroke="#333333" stroke-width="1"/>
<text x="54.8" y="521.2" font-size="8.8" text-anchor="end" textLength="15.41" lengthAdjust="spacingAndGlyphs" stroke="#1a1a1a" stroke-width="0.2">1.00</text>
<line x1="57" y1="536.6" x2="59.3" y2="536.6" stroke="#333333" stroke-width="1"/>
<text x="54.8" y="540.6" font-size="8.8" text-anchor="end" textLength="15.41" lengthAdjust="spacingAndGlyphs" stroke="#1a1a1a" stroke-width="0.2">0.75</text>
<line x1="57" y1="555.4" x2="59.3" y2="555.4" stroke="#333333" stroke-width="1"/>
<text x="54.8" y="559.4" font-size="8.8" text-anchor="end" textLength="15.41" lengthAdjust="spacingAndGlyphs" stroke="#1a1a1a" stroke-width="0.2">0.50</text>
<line x1="57" y1="575.2" x2="59.3" y2="575.2" stroke="#333333" stroke-width="1"/>
<text x="54.8" y="579.2" font-size="8.8" text-anchor="end" textLength="15.41" lengthAdjust="spacingAndGlyphs" stroke="#1a1a1a" stroke-width="0.2">0.25</text>
<line x1="57" y1="594.2" x2="59.3" y2="594.2" stroke="#333333" stroke-width="1"/>
<text x="54.8" y="598.2" font-size="8.8" text-anchor="end" textLength="15.41" lengthAdjust="spacingAndGlyphs" stroke="#1a1a1a" stroke-width="0.2">0.00</text>
<text x="35.1" y="560.9" font-size="10.2" text-anchor="middle" textLength="58.3" lengthAdjust="spacingAndGlyphs" transform="rotate(-90 35.1 560.9)" stroke="#1a1a1a" stroke-width="0.35">Cumulative survival</text>
<line x1="67.7" y1="598.4" x2="67.7" y2="600.6" stroke="#333333" stroke-width="1"/>
<text x="65.4" y="608.4" font-size="8.8" text-anchor="middle" textLength="4.4" lengthAdjust="spacingAndGlyphs" stroke="#1a1a1a" stroke-width="0.2">0</text>
<line x1="85" y1="598.4" x2="85" y2="600.6" stroke="#333333" stroke-width="1"/>
<text x="80.4" y="608.4" font-size="8.8" text-anchor="middle" textLength="8.81" lengthAdjust="spacingAndGlyphs" stroke="#1a1a1a" stroke-width="0.2">12</text>
<line x1="102.3" y1="598.4" x2="102.3" y2="600.6" stroke="#333333" stroke-width="1"/>
<text x="96" y="608.4" font-size="8.8" text-anchor="middle" textLength="8.81" lengthAdjust="spacingAndGlyphs" stroke="#1a1a1a" stroke-width="0.2">24</text>
<line x1="119.6" y1="598.4" x2="119.6" y2="600.6" stroke="#333333" stroke-width="1"/>
<text x="113.9" y="608.4" font-size="8.8" text-anchor="middle" textLength="8.81" lengthAdjust="spacingAndGlyphs" stroke="#1a1a1a" stroke-width="0.2">36</text>
<line x1="136.9" y1="598.4" x2="136.9" y2="600.6" stroke="#333333" stroke-width="1"/>
<text x="131.5" y="608.4" font-size="8.8" text-anchor="middle" textLength="8.81" lengthAdjust="spacingAndGlyphs" stroke="#1a1a1a" stroke-width="0.2">48</text>
<line x1="154.2" y1="598.4" x2="154.2" y2="600.6" stroke="#333333" stroke-width="1"/>
<text x="148.6" y="608.4" font-size="8.8" text-anchor="middle" textLength="8.81" lengthAdjust="spacingAndGlyphs" stroke="#1a1a1a" stroke-width="0.2">60</text>
<line x1="171.5" y1="598.4" x2="171.5" y2="600.6" stroke="#333333" stroke-width="1"/>
<text x="167.5" y="608.4" font-size="8.8" text-anchor="middle" textLength="8.81" lengthAdjust="spacingAndGlyphs" stroke="#1a1a1a" stroke-width="0.2">72</text>
<line x1="188.8" y1="598.4" x2="188.8" y2="600.6" stroke="#333333" stroke-width="1"/>
<text x="182.6" y="608.4" font-size="8.8" text-anchor="middle" textLength="8.81" lengthAdjust="spacingAndGlyphs" stroke="#1a1a1a" stroke-width="0.2">84</text>
<line x1="206.1" y1="598.4" x2="206.1" y2="600.6" stroke="#333333" stroke-width="1"/>
<text x="200.5" y="608.4" font-size="8.8" text-anchor="middle" textLength="8.81" lengthAdjust="spacingAndGlyphs" stroke="#1a1a1a" stroke-width="0.2">96</text>
<line x1="223.4" y1="598.4" x2="223.4" y2="600.6" stroke="#333333" stroke-width="1"/>
<text x="217.2" y="608.4" font-size="8.8" text-anchor="middle" textLength="13.21" lengthAdjust="spacingAndGlyphs" stroke="#1a1a1a" stroke-width="0.2">108</text>
<line x1="240.7" y1="598.4" x2="240.7" y2="600.6" stroke="#333333" stroke-width="1"/>
<text x="235.1" y="608.4" font-size="8.8" text-anchor="middle" textLength="13.21" lengthAdjust="spacingAndGlyphs" stroke="#1a1a1a" stroke-width="0.2">120</text>
<text x="117.8" y="617" font-size="8.4" textLength="74.5" lengthAdjust="spacingAndGlyphs" stroke="#1a1a1a" stroke-width="0.35">overall survival (months)</text>
<text x="70" y="584.5" font-size="8.2" fill="#111" textLength="30.4" lengthAdjust="spacingAndGlyphs" stroke="#111" stroke-width="0.2">p=0.058</text>
<text x="124.4" y="525.8" font-size="8.2" fill="#111" textLength="32.7" lengthAdjust="spacingAndGlyphs" stroke="#111" stroke-width="0.2">Favorable</text>
<polyline points="67.7,529.4 79.6,529.4 79.6,550.6 90.4,550.6 90.4,560.8 96.2,560.8 96.2,570 144.6,570 144.6,580.2 170.7,580.2" fill="none" stroke="#2a6198" stroke-width="1.1" stroke-linejoin="round"/>
<path d="M149.4 577.5v5.4 M170.7 577.5v5.4" stroke="#2a6198" stroke-width="0.85" fill="none"/>
<polyline points="67.7,531 71.5,535.2 79.2,540.4 88.8,544.5 98.5,547.3 108,549.8 117.7,551.9 129.2,553.8 140.8,555.2 160,556.2 177.5,556.4 177.5,558.2 236.3,558.2" fill="none" stroke="#cf1f3a" stroke-width="1.1" stroke-linejoin="round"/>
<path d="M68 528.63v5.4 M71.5 532.5v5.4 M74 534.19v5.4 M76 535.54v5.4 M78 536.89v5.4 M80 538.04v5.4 M82 538.9v5.4 M84.5 539.96v5.4 M87.65 541.31v5.4 M90.8 542.38v5.4 M93.95 543.29v5.4 M97.1 544.2v5.4 M100.25 545.06v5.4 M103.4 545.89v5.4 M106.55 546.72v5.4 M109.7 547.47v5.4 M112.85 548.15v5.4 M116 548.83v5.4 M119.15 549.44v5.4 M122.3 549.96v5.4 M125.45 550.48v5.4 M128.6 551v5.4 M131.75 551.41v5.4 M134.9 551.79v5.4 M138.05 552.17v5.4 M141.2 552.52v5.4 M144.35 552.68v5.4 M147.5 552.85v5.4 M150.65 553.01v5.4 M153.8 553.18v5.4 M156.95 553.34v5.4 M160.1 553.5v5.4 M163.25 553.54v5.4 M166.4 553.57v5.4 M169.55 553.61v5.4 M172.7 553.65v5.4 M175.85 553.68v5.4 M179 555.5v5.4 M182.15 555.5v5.4 M185.3 555.5v5.4 M188.45 555.5v5.4 M191.6 555.5v5.4 M194.75 555.5v5.4 M197.9 555.5v5.4 M201.05 555.5v5.4 M204.2 555.5v5.4 M207.35 555.5v5.4 M210.5 555.5v5.4 M213.65 555.5v5.4 M216.8 555.5v5.4 M219.95 555.5v5.4 M223.1 555.5v5.4 M226.25 555.5v5.4 M229.4 555.5v5.4 M232.55 555.5v5.4 M235.7 555.5v5.4" stroke="#cf1f3a" stroke-width="0.85" fill="none"/>
<text x="71.9" y="516.1" font-size="8.8" fill="#111" font-style="italic" textLength="21.8" lengthAdjust="spacingAndGlyphs" stroke="#111" stroke-width="0.2">Strata</text>
<line x1="98.5" y1="513.7" x2="111.9" y2="513.7" stroke="#cf1f3a" stroke-width="1.1"/>
<line x1="105.2" y1="511.9" x2="105.2" y2="515.5" stroke="#cf1f3a" stroke-width="0.9"/>
<line x1="169.5" y1="513.9" x2="182.8" y2="513.9" stroke="#2a6198" stroke-width="1.1"/>
<line x1="176.15" y1="512.1" x2="176.15" y2="515.7" stroke="#2a6198" stroke-width="0.9"/>
<text x="121.5" y="516.1" font-size="8.8" textLength="38.5" lengthAdjust="spacingAndGlyphs" fill="#111" stroke="#111" stroke-width="0.2"><tspan font-style="italic" fill="#3a3a3a" stroke-width="0.08">SF3B1</tspan> WT</text>
<text x="196.1" y="515.6" font-size="8.8" textLength="54.3" lengthAdjust="spacingAndGlyphs" fill="#111" stroke="#111" stroke-width="0.2"><tspan font-style="italic" fill="#3a3a3a" stroke-width="0.08">SF3B1</tspan> mutated</text>
<line x1="313.3" y1="513.4" x2="313.3" y2="599.3" stroke="#333333" stroke-width="1.35"/>
<line x1="312.7" y1="598.7" x2="502.6" y2="598.7" stroke="#333333" stroke-width="1.35"/>
<line x1="311" y1="517.4" x2="313.3" y2="517.4" stroke="#333333" stroke-width="1"/>
<text x="309.5" y="521.4" font-size="8.8" text-anchor="end" textLength="15.41" lengthAdjust="spacingAndGlyphs" stroke="#1a1a1a" stroke-width="0.2">1.00</text>
<line x1="311" y1="537" x2="313.3" y2="537" stroke="#333333" stroke-width="1"/>
<text x="309.5" y="541" font-size="8.8" text-anchor="end" textLength="15.41" lengthAdjust="spacingAndGlyphs" stroke="#1a1a1a" stroke-width="0.2">0.75</text>
<line x1="311" y1="555.8" x2="313.3" y2="555.8" stroke="#333333" stroke-width="1"/>
<text x="309.5" y="559.8" font-size="8.8" text-anchor="end" textLength="15.41" lengthAdjust="spacingAndGlyphs" stroke="#1a1a1a" stroke-width="0.2">0.50</text>
<line x1="311" y1="575.6" x2="313.3" y2="575.6" stroke="#333333" stroke-width="1"/>
<text x="309.5" y="579.6" font-size="8.8" text-anchor="end" textLength="15.41" lengthAdjust="spacingAndGlyphs" stroke="#1a1a1a" stroke-width="0.2">0.25</text>
<line x1="311" y1="594.2" x2="313.3" y2="594.2" stroke="#333333" stroke-width="1"/>
<text x="309.5" y="598.2" font-size="8.8" text-anchor="end" textLength="15.41" lengthAdjust="spacingAndGlyphs" stroke="#1a1a1a" stroke-width="0.2">0.00</text>
<text x="289.2" y="561" font-size="10.2" text-anchor="middle" textLength="58.7" lengthAdjust="spacingAndGlyphs" transform="rotate(-90 289.2 561)" stroke="#1a1a1a" stroke-width="0.35">Cumulative survival</text>
<line x1="321.3" y1="598.7" x2="321.3" y2="600.9" stroke="#333333" stroke-width="1"/>
<text x="318.7" y="609.2" font-size="8.8" text-anchor="middle" textLength="4.4" lengthAdjust="spacingAndGlyphs" stroke="#1a1a1a" stroke-width="0.2">0</text>
<line x1="338.57" y1="598.7" x2="338.57" y2="600.9" stroke="#333333" stroke-width="1"/>
<text x="334.4" y="609.2" font-size="8.8" text-anchor="middle" textLength="8.81" lengthAdjust="spacingAndGlyphs" stroke="#1a1a1a" stroke-width="0.2">12</text>
<line x1="355.84" y1="598.7" x2="355.84" y2="600.9" stroke="#333333" stroke-width="1"/>
<text x="349.7" y="609.2" font-size="8.8" text-anchor="middle" textLength="8.81" lengthAdjust="spacingAndGlyphs" stroke="#1a1a1a" stroke-width="0.2">24</text>
<line x1="373.11" y1="598.7" x2="373.11" y2="600.9" stroke="#333333" stroke-width="1"/>
<text x="367.8" y="609.2" font-size="8.8" text-anchor="middle" textLength="8.81" lengthAdjust="spacingAndGlyphs" stroke="#1a1a1a" stroke-width="0.2">36</text>
<line x1="390.38" y1="598.7" x2="390.38" y2="600.9" stroke="#333333" stroke-width="1"/>
<text x="385.6" y="609.2" font-size="8.8" text-anchor="middle" textLength="8.81" lengthAdjust="spacingAndGlyphs" stroke="#1a1a1a" stroke-width="0.2">48</text>
<line x1="407.65" y1="598.7" x2="407.65" y2="600.9" stroke="#333333" stroke-width="1"/>
<text x="402.1" y="609.2" font-size="8.8" text-anchor="middle" textLength="8.81" lengthAdjust="spacingAndGlyphs" stroke="#1a1a1a" stroke-width="0.2">60</text>
<line x1="424.92" y1="598.7" x2="424.92" y2="600.9" stroke="#333333" stroke-width="1"/>
<text x="421" y="609.2" font-size="8.8" text-anchor="middle" textLength="8.81" lengthAdjust="spacingAndGlyphs" stroke="#1a1a1a" stroke-width="0.2">72</text>
<line x1="442.19" y1="598.7" x2="442.19" y2="600.9" stroke="#333333" stroke-width="1"/>
<text x="436.4" y="609.2" font-size="8.8" text-anchor="middle" textLength="8.81" lengthAdjust="spacingAndGlyphs" stroke="#1a1a1a" stroke-width="0.2">84</text>
<line x1="459.46" y1="598.7" x2="459.46" y2="600.9" stroke="#333333" stroke-width="1"/>
<text x="455.9" y="609.2" font-size="8.8" text-anchor="middle" textLength="8.81" lengthAdjust="spacingAndGlyphs" stroke="#1a1a1a" stroke-width="0.2">96</text>
<line x1="476.73" y1="598.7" x2="476.73" y2="600.9" stroke="#333333" stroke-width="1"/>
<text x="472.4" y="609.2" font-size="8.8" text-anchor="middle" textLength="13.21" lengthAdjust="spacingAndGlyphs" stroke="#1a1a1a" stroke-width="0.2">108</text>
<line x1="494" y1="598.7" x2="494" y2="600.9" stroke="#333333" stroke-width="1"/>
<text x="489.7" y="609.2" font-size="8.8" text-anchor="middle" textLength="13.21" lengthAdjust="spacingAndGlyphs" stroke="#1a1a1a" stroke-width="0.2">120</text>
<text x="371.7" y="617.4" font-size="8.4" textLength="74.8" lengthAdjust="spacingAndGlyphs" stroke="#1a1a1a" stroke-width="0.35">overall survival (months)</text>
<text x="321.9" y="585" font-size="8.2" fill="#111" textLength="29.3" lengthAdjust="spacingAndGlyphs" stroke="#111" stroke-width="0.2">p=0.011</text>
<text x="379.2" y="527.3" font-size="8.2" fill="#111" textLength="45.8" lengthAdjust="spacingAndGlyphs" stroke="#111" stroke-width="0.2">Intermediate</text>
<polyline points="321,515.8 321.6,526 323.5,526 323.5,533.1 325.8,533.1 325.8,540.4 327.7,540.4 327.7,548.5 331.2,548.5 331.2,557.3 338.3,557.3 338.3,565.4 342.7,565.4 342.7,572.7 366.2,572.7 367.2,572.7 367.2,581.4 390.3,581.4" fill="none" stroke="#2a6198" stroke-width="1.1" stroke-linejoin="round"/>
<path d="M386.5 578.7v5.4 M390.3 578.7v5.4" stroke="#2a6198" stroke-width="0.85" fill="none"/>
<polyline points="321,515.8 323.8,521.2 327.7,525.5 331.5,532.5 335.4,539.5 341.2,544.8 346.9,548.6 356.5,553.2 362,554.5 374.4,557.5 403.2,560.3 432,562.8 436.4,565.5 494,565.5" fill="none" stroke="#cf1f3a" stroke-width="1.1" stroke-linejoin="round"/>
<path d="M322 515.03v5.4 M324.5 519.27v5.4 M327 522.03v5.4 M331 528.88v5.4 M336 537.35v5.4 M340 541v5.4 M343 543.3v5.4 M346 545.3v5.4 M349 546.91v5.4 M352 548.34v5.4 M354.5 549.54v5.4 M357 550.62v5.4 M359.9 551.3v5.4 M362.8 551.99v5.4 M365.7 552.7v5.4 M368.6 553.4v5.4 M371.5 554.1v5.4 M374.4 554.8v5.4 M377.3 555.08v5.4 M380.2 555.36v5.4 M383.1 555.65v5.4 M386 555.93v5.4 M388.9 556.21v5.4 M391.8 556.49v5.4 M394.7 556.77v5.4 M397.6 557.06v5.4 M400.5 557.34v5.4 M403.4 557.62v5.4 M406.3 557.87v5.4 M409.2 558.12v5.4 M412.1 558.37v5.4 M415 558.62v5.4 M417.9 558.88v5.4 M420.8 559.13v5.4 M423.7 559.38v5.4 M426.6 559.63v5.4 M429.5 559.88v5.4 M432.4 560.35v5.4 M435.3 562.12v5.4 M438 562.8v5.4 M442.3 562.8v5.4 M446.6 562.8v5.4 M450.9 562.8v5.4 M455.2 562.8v5.4 M459.5 562.8v5.4 M463.8 562.8v5.4 M468.1 562.8v5.4 M472.4 562.8v5.4 M476.7 562.8v5.4 M481 562.8v5.4 M485.3 562.8v5.4 M489.6 562.8v5.4 M493.9 562.8v5.4" stroke="#cf1f3a" stroke-width="0.85" fill="none"/>
<text x="330.8" y="516.1" font-size="8.8" fill="#111" font-style="italic" textLength="19.2" lengthAdjust="spacingAndGlyphs" stroke="#111" stroke-width="0.2">Strata</text>
<line x1="356.7" y1="514.2" x2="369.6" y2="514.2" stroke="#cf1f3a" stroke-width="1.1"/>
<line x1="363.15" y1="512.4" x2="363.15" y2="516" stroke="#cf1f3a" stroke-width="0.9"/>
<line x1="426.9" y1="514.2" x2="440" y2="514.2" stroke="#2a6198" stroke-width="1.1"/>
<line x1="433.45" y1="512.4" x2="433.45" y2="516" stroke="#2a6198" stroke-width="0.9"/>
<text x="379.2" y="516.1" font-size="8.8" textLength="39.1" lengthAdjust="spacingAndGlyphs" fill="#111" stroke="#111" stroke-width="0.2"><tspan font-style="italic" fill="#3a3a3a" stroke-width="0.08">SF3B1</tspan> WT</text>
<text x="445.4" y="515.8" font-size="8.8" textLength="54.2" lengthAdjust="spacingAndGlyphs" fill="#111" stroke="#111" stroke-width="0.2"><tspan font-style="italic" fill="#3a3a3a" stroke-width="0.08">SF3B1</tspan> mutated</text>
<text x="70" y="145.2" font-size="10.2" textLength="45.8" lengthAdjust="spacingAndGlyphs" stroke="#1a1a1a" stroke-width="0.35">Number at risk</text>
<text x="34" y="158" font-size="10.4" text-anchor="middle" fill="#3a3a3a" font-style="italic" textLength="23.8" lengthAdjust="spacingAndGlyphs" transform="rotate(-90 34 158)" stroke="#3a3a3a" stroke-width="0.05">Strata</text>
<line x1="50.5" y1="153.5" x2="55.6" y2="153.5" stroke="#cf1f3a" stroke-width="1.3"/>
<line x1="50.5" y1="160.1" x2="55.6" y2="160.1" stroke="#2a6198" stroke-width="1.3"/>
<line x1="57.9" y1="149.8" x2="57.9" y2="165.4" stroke="#333333" stroke-width="1.35"/>
<line x1="57.3" y1="164.8" x2="250" y2="164.8" stroke="#333333" stroke-width="1.35"/>
<text x="68" y="155.8" font-size="9" text-anchor="middle" fill="#cf1f3a" textLength="14.42" lengthAdjust="spacingAndGlyphs" stroke="#cf1f3a" stroke-width="0.1">655</text>
<text x="89.7" y="155.8" font-size="9" text-anchor="middle" fill="#cf1f3a" textLength="14.42" lengthAdjust="spacingAndGlyphs" stroke="#cf1f3a" stroke-width="0.1">403</text>
<text x="109.9" y="155.8" font-size="9" text-anchor="middle" fill="#cf1f3a" textLength="14.42" lengthAdjust="spacingAndGlyphs" stroke="#cf1f3a" stroke-width="0.1">320</text>
<text x="128.6" y="155.8" font-size="9" text-anchor="middle" fill="#cf1f3a" textLength="14.42" lengthAdjust="spacingAndGlyphs" stroke="#cf1f3a" stroke-width="0.1">251</text>
<text x="147.3" y="155.8" font-size="9" text-anchor="middle" fill="#cf1f3a" textLength="14.42" lengthAdjust="spacingAndGlyphs" stroke="#cf1f3a" stroke-width="0.1">186</text>
<text x="164.1" y="155.8" font-size="9" text-anchor="middle" fill="#cf1f3a" textLength="14.42" lengthAdjust="spacingAndGlyphs" stroke="#cf1f3a" stroke-width="0.1">131</text>
<text x="181.3" y="155.8" font-size="9" text-anchor="middle" fill="#cf1f3a" textLength="9.61" lengthAdjust="spacingAndGlyphs" stroke="#cf1f3a" stroke-width="0.1">81</text>
<text x="196.4" y="155.8" font-size="9" text-anchor="middle" fill="#cf1f3a" textLength="9.61" lengthAdjust="spacingAndGlyphs" stroke="#cf1f3a" stroke-width="0.1">51</text>
<text x="214.4" y="155.8" font-size="9" text-anchor="middle" fill="#cf1f3a" textLength="9.61" lengthAdjust="spacingAndGlyphs" stroke="#cf1f3a" stroke-width="0.1">32</text>
<text x="231.7" y="155.8" font-size="9" text-anchor="middle" fill="#cf1f3a" textLength="4.81" lengthAdjust="spacingAndGlyphs" stroke="#cf1f3a" stroke-width="0.1">9</text>
<text x="245.7" y="155.8" font-size="9" text-anchor="middle" fill="#cf1f3a" textLength="4.81" lengthAdjust="spacingAndGlyphs" stroke="#cf1f3a" stroke-width="0.1">0</text>
<text x="68" y="163.6" font-size="9" text-anchor="middle" fill="#2a6198" textLength="14.42" lengthAdjust="spacingAndGlyphs" stroke="#2a6198" stroke-width="0.1">160</text>
<text x="90.1" y="163.6" font-size="9" text-anchor="middle" fill="#2a6198" textLength="9.61" lengthAdjust="spacingAndGlyphs" stroke="#2a6198" stroke-width="0.1">73</text>
<text x="109.4" y="163.6" font-size="9" text-anchor="middle" fill="#2a6198" textLength="9.61" lengthAdjust="spacingAndGlyphs" stroke="#2a6198" stroke-width="0.1">48</text>
<text x="129" y="163.6" font-size="9" text-anchor="middle" fill="#2a6198" textLength="9.61" lengthAdjust="spacingAndGlyphs" stroke="#2a6198" stroke-width="0.1">35</text>
<text x="145.9" y="163.6" font-size="9" text-anchor="middle" fill="#2a6198" textLength="4.81" lengthAdjust="spacingAndGlyphs" stroke="#2a6198" stroke-width="0.1">9</text>
<text x="163.9" y="163.6" font-size="9" text-anchor="middle" fill="#2a6198" textLength="4.81" lengthAdjust="spacingAndGlyphs" stroke="#2a6198" stroke-width="0.1">2</text>
<text x="181.2" y="163.6" font-size="9" text-anchor="middle" fill="#2a6198" textLength="4.81" lengthAdjust="spacingAndGlyphs" stroke="#2a6198" stroke-width="0.1">5</text>
<text x="196.6" y="163.6" font-size="9" text-anchor="middle" fill="#2a6198" textLength="4.81" lengthAdjust="spacingAndGlyphs" stroke="#2a6198" stroke-width="0.1">2</text>
<text x="214" y="163.6" font-size="9" text-anchor="middle" fill="#2a6198" textLength="4.81" lengthAdjust="spacingAndGlyphs" stroke="#2a6198" stroke-width="0.1">1</text>
<text x="231.7" y="163.6" font-size="9" text-anchor="middle" fill="#2a6198" textLength="4.81" lengthAdjust="spacingAndGlyphs" stroke="#2a6198" stroke-width="0.1">1</text>
<text x="245.7" y="163.6" font-size="9" text-anchor="middle" fill="#2a6198" textLength="4.81" lengthAdjust="spacingAndGlyphs" stroke="#2a6198" stroke-width="0.1">0</text>
<line x1="69.4" y1="164.8" x2="69.4" y2="166.8" stroke="#333333" stroke-width="1"/>
<line x1="89.2" y1="164.8" x2="89.2" y2="166.8" stroke="#333333" stroke-width="1"/>
<line x1="110.8" y1="164.8" x2="110.8" y2="166.8" stroke="#333333" stroke-width="1"/>
<line x1="129" y1="164.8" x2="129" y2="166.8" stroke="#333333" stroke-width="1"/>
<line x1="149.2" y1="164.8" x2="149.2" y2="166.8" stroke="#333333" stroke-width="1"/>
<line x1="164.4" y1="164.8" x2="164.4" y2="166.8" stroke="#333333" stroke-width="1"/>
<line x1="183.7" y1="164.8" x2="183.7" y2="166.8" stroke="#333333" stroke-width="1"/>
<line x1="197.7" y1="164.8" x2="197.7" y2="166.8" stroke="#333333" stroke-width="1"/>
<line x1="213.8" y1="164.8" x2="213.8" y2="166.8" stroke="#333333" stroke-width="1"/>
<line x1="232.3" y1="164.8" x2="232.3" y2="166.8" stroke="#333333" stroke-width="1"/>
<line x1="247" y1="164.8" x2="247" y2="166.8" stroke="#333333" stroke-width="1"/>
<text x="66.55" y="174.8" font-size="9.2" text-anchor="middle" textLength="4.45" lengthAdjust="spacingAndGlyphs" stroke="#1a1a1a" stroke-width="0.2">0</text>
<text x="85.8" y="174.8" font-size="9.2" text-anchor="middle" textLength="8.9" lengthAdjust="spacingAndGlyphs" stroke="#1a1a1a" stroke-width="0.2">12</text>
<text x="105.9" y="174.8" font-size="9.2" text-anchor="middle" textLength="8.9" lengthAdjust="spacingAndGlyphs" stroke="#1a1a1a" stroke-width="0.2">24</text>
<text x="125.2" y="174.8" font-size="9.2" text-anchor="middle" textLength="8.9" lengthAdjust="spacingAndGlyphs" stroke="#1a1a1a" stroke-width="0.2">36</text>
<text x="144.4" y="174.8" font-size="9.2" text-anchor="middle" textLength="8.9" lengthAdjust="spacingAndGlyphs" stroke="#1a1a1a" stroke-width="0.2">48</text>
<text x="160.4" y="174.8" font-size="9.2" text-anchor="middle" textLength="8.9" lengthAdjust="spacingAndGlyphs" stroke="#1a1a1a" stroke-width="0.2">60</text>
<text x="180.3" y="174.8" font-size="9.2" text-anchor="middle" textLength="8.9" lengthAdjust="spacingAndGlyphs" stroke="#1a1a1a" stroke-width="0.2">72</text>
<text x="192.75" y="174.8" font-size="9.2" text-anchor="middle" textLength="8.9" lengthAdjust="spacingAndGlyphs" stroke="#1a1a1a" stroke-width="0.2">84</text>
<text x="209.6" y="174.8" font-size="9.2" text-anchor="middle" textLength="8.9" lengthAdjust="spacingAndGlyphs" stroke="#1a1a1a" stroke-width="0.2">96</text>
<text x="226.6" y="174.8" font-size="9.2" text-anchor="middle" textLength="13.35" lengthAdjust="spacingAndGlyphs" stroke="#1a1a1a" stroke-width="0.2">108</text>
<text x="246" y="174.8" font-size="9.2" text-anchor="middle" textLength="13.35" lengthAdjust="spacingAndGlyphs" stroke="#1a1a1a" stroke-width="0.2">120</text>
<text x="110.4" y="186.3" font-size="9.8" textLength="85.1" lengthAdjust="spacingAndGlyphs" stroke="#1a1a1a" stroke-width="0.35">Event-free survival (months)</text>
<text x="70.3" y="202.8" font-size="10.2" textLength="99.8" lengthAdjust="spacingAndGlyphs" stroke="#1a1a1a" stroke-width="0.35">Cumulative number of censoring</text>
<text x="34" y="213.2" font-size="10.4" text-anchor="middle" fill="#3a3a3a" font-style="italic" textLength="23.8" lengthAdjust="spacingAndGlyphs" transform="rotate(-90 34 213.2)" stroke="#3a3a3a" stroke-width="0.05">Strata</text>
<line x1="50.4" y1="210.9" x2="55.9" y2="210.9" stroke="#cf1f3a" stroke-width="2"/>
<line x1="50.4" y1="217.7" x2="55.9" y2="217.7" stroke="#2a6198" stroke-width="2"/>
<line x1="58" y1="206.5" x2="58" y2="222.1" stroke="#333333" stroke-width="1.35"/>
<line x1="57.4" y1="221.5" x2="250" y2="221.5" stroke="#333333" stroke-width="1.35"/>
<text x="62.5" y="212" font-size="9" text-anchor="middle" fill="#cf1f3a" textLength="4.81" lengthAdjust="spacingAndGlyphs" stroke="#cf1f3a" stroke-width="0.1">0</text>
<text x="74.4" y="212" font-size="9" text-anchor="middle" fill="#cf1f3a" textLength="9.61" lengthAdjust="spacingAndGlyphs" stroke="#cf1f3a" stroke-width="0.1">16</text>
<text x="88.7" y="212" font-size="9" text-anchor="middle" fill="#cf1f3a" textLength="9.61" lengthAdjust="spacingAndGlyphs" stroke="#cf1f3a" stroke-width="0.1">29</text>
<text x="110.2" y="212" font-size="9" text-anchor="middle" fill="#cf1f3a" textLength="9.61" lengthAdjust="spacingAndGlyphs" stroke="#cf1f3a" stroke-width="0.1">74</text>
<text x="128.7" y="212" font-size="9" text-anchor="middle" fill="#cf1f3a" textLength="14.42" lengthAdjust="spacingAndGlyphs" stroke="#cf1f3a" stroke-width="0.1">128</text>
<text x="150" y="212" font-size="9" text-anchor="middle" fill="#cf1f3a" textLength="14.42" lengthAdjust="spacingAndGlyphs" stroke="#cf1f3a" stroke-width="0.1">173</text>
<text x="169.1" y="212" font-size="9" text-anchor="middle" fill="#cf1f3a" textLength="14.42" lengthAdjust="spacingAndGlyphs" stroke="#cf1f3a" stroke-width="0.1">219</text>
<text x="188.3" y="212" font-size="9" text-anchor="middle" fill="#cf1f3a" textLength="14.42" lengthAdjust="spacingAndGlyphs" stroke="#cf1f3a" stroke-width="0.1">248</text>
<text x="207.2" y="212" font-size="9" text-anchor="middle" fill="#cf1f3a" textLength="14.42" lengthAdjust="spacingAndGlyphs" stroke="#cf1f3a" stroke-width="0.1">267</text>
<text x="225.1" y="212" font-size="9" text-anchor="middle" fill="#cf1f3a" textLength="14.42" lengthAdjust="spacingAndGlyphs" stroke="#cf1f3a" stroke-width="0.1">289</text>
<text x="243" y="212" font-size="9" text-anchor="middle" fill="#cf1f3a" textLength="14.42" lengthAdjust="spacingAndGlyphs" stroke="#cf1f3a" stroke-width="0.1">298</text>
<text x="62.5" y="220.8" font-size="9" text-anchor="middle" fill="#2a6198" textLength="4.81" lengthAdjust="spacingAndGlyphs" stroke="#2a6198" stroke-width="0.1">0</text>
<text x="73.7" y="220.8" font-size="9" text-anchor="middle" fill="#2a6198" textLength="4.81" lengthAdjust="spacingAndGlyphs" stroke="#2a6198" stroke-width="0.1">3</text>
<text x="90.9" y="220.8" font-size="9" text-anchor="middle" fill="#2a6198" textLength="4.81" lengthAdjust="spacingAndGlyphs" stroke="#2a6198" stroke-width="0.1">8</text>
<text x="107.3" y="220.8" font-size="9" text-anchor="middle" fill="#2a6198" textLength="9.61" lengthAdjust="spacingAndGlyphs" stroke="#2a6198" stroke-width="0.1">12</text>
<text x="128.7" y="220.8" font-size="9" text-anchor="middle" fill="#2a6198" textLength="9.61" lengthAdjust="spacingAndGlyphs" stroke="#2a6198" stroke-width="0.1">25</text>
<text x="148.5" y="220.8" font-size="9" text-anchor="middle" fill="#2a6198" textLength="9.61" lengthAdjust="spacingAndGlyphs" stroke="#2a6198" stroke-width="0.1">31</text>
<text x="168" y="220.8" font-size="9" text-anchor="middle" fill="#2a6198" textLength="9.61" lengthAdjust="spacingAndGlyphs" stroke="#2a6198" stroke-width="0.1">38</text>
<text x="187" y="220.8" font-size="9" text-anchor="middle" fill="#2a6198" textLength="9.61" lengthAdjust="spacingAndGlyphs" stroke="#2a6198" stroke-width="0.1">40</text>
<text x="206" y="220.8" font-size="9" text-anchor="middle" fill="#2a6198" textLength="9.61" lengthAdjust="spacingAndGlyphs" stroke="#2a6198" stroke-width="0.1">41</text>
<text x="224.5" y="220.8" font-size="9" text-anchor="middle" fill="#2a6198" textLength="9.61" lengthAdjust="spacingAndGlyphs" stroke="#2a6198" stroke-width="0.1">41</text>
<text x="243" y="220.8" font-size="9" text-anchor="middle" fill="#2a6198" textLength="9.61" lengthAdjust="spacingAndGlyphs" stroke="#2a6198" stroke-width="0.1">42</text>
<line x1="61.2" y1="221.5" x2="61.2" y2="223.5" stroke="#333333" stroke-width="1"/>
<line x1="73.5" y1="221.5" x2="73.5" y2="223.5" stroke="#333333" stroke-width="1"/>
<line x1="95.3" y1="221.5" x2="95.3" y2="223.5" stroke="#333333" stroke-width="1"/>
<line x1="115.3" y1="221.5" x2="115.3" y2="223.5" stroke="#333333" stroke-width="1"/>
<line x1="130.4" y1="221.5" x2="130.4" y2="223.5" stroke="#333333" stroke-width="1"/>
<line x1="149.5" y1="221.5" x2="149.5" y2="223.5" stroke="#333333" stroke-width="1"/>
<line x1="170.7" y1="221.5" x2="170.7" y2="223.5" stroke="#333333" stroke-width="1"/>
<line x1="188.2" y1="221.5" x2="188.2" y2="223.5" stroke="#333333" stroke-width="1"/>
<line x1="204.5" y1="221.5" x2="204.5" y2="223.5" stroke="#333333" stroke-width="1"/>
<line x1="224.6" y1="221.5" x2="224.6" y2="223.5" stroke="#333333" stroke-width="1"/>
<line x1="241.5" y1="221.5" x2="241.5" y2="223.5" stroke="#333333" stroke-width="1"/>
<text x="61.55" y="232.2" font-size="9.2" text-anchor="middle" textLength="4.45" lengthAdjust="spacingAndGlyphs" stroke="#1a1a1a" stroke-width="0.2">0</text>
<text x="73.8" y="232.2" font-size="9.2" text-anchor="middle" textLength="8.9" lengthAdjust="spacingAndGlyphs" stroke="#1a1a1a" stroke-width="0.2">12</text>
<text x="92.25" y="232.2" font-size="9.2" text-anchor="middle" textLength="8.9" lengthAdjust="spacingAndGlyphs" stroke="#1a1a1a" stroke-width="0.2">24</text>
<text x="111.15" y="232.2" font-size="9.2" text-anchor="middle" textLength="8.9" lengthAdjust="spacingAndGlyphs" stroke="#1a1a1a" stroke-width="0.2">36</text>
<text x="128.45" y="232.2" font-size="9.2" text-anchor="middle" textLength="8.9" lengthAdjust="spacingAndGlyphs" stroke="#1a1a1a" stroke-width="0.2">48</text>
<text x="148.95" y="232.2" font-size="9.2" text-anchor="middle" textLength="8.9" lengthAdjust="spacingAndGlyphs" stroke="#1a1a1a" stroke-width="0.2">60</text>
<text x="168.55" y="232.2" font-size="9.2" text-anchor="middle" textLength="8.9" lengthAdjust="spacingAndGlyphs" stroke="#1a1a1a" stroke-width="0.2">72</text>
<text x="188.1" y="232.2" font-size="9.2" text-anchor="middle" textLength="8.9" lengthAdjust="spacingAndGlyphs" stroke="#1a1a1a" stroke-width="0.2">84</text>
<text x="203.95" y="232.2" font-size="9.2" text-anchor="middle" textLength="8.9" lengthAdjust="spacingAndGlyphs" stroke="#1a1a1a" stroke-width="0.2">96</text>
<text x="225.6" y="232.2" font-size="9.2" text-anchor="middle" textLength="13.35" lengthAdjust="spacingAndGlyphs" stroke="#1a1a1a" stroke-width="0.2">108</text>
<text x="243.65" y="232.2" font-size="9.2" text-anchor="middle" textLength="13.35" lengthAdjust="spacingAndGlyphs" stroke="#1a1a1a" stroke-width="0.2">120</text>
<text x="116.2" y="244.9" font-size="10.2" textLength="75.8" lengthAdjust="spacingAndGlyphs" stroke="#1a1a1a" stroke-width="0.35">Overall survival (months)</text>
<text x="325.4" y="146.9" font-size="10.2" textLength="45" lengthAdjust="spacingAndGlyphs" stroke="#1a1a1a" stroke-width="0.35">Number at risk</text>
<text x="289.3" y="158.1" font-size="10.4" text-anchor="middle" fill="#3a3a3a" font-style="italic" textLength="23.2" lengthAdjust="spacingAndGlyphs" transform="rotate(-90 289.3 158.1)" stroke="#3a3a3a" stroke-width="0.05">Strata</text>
<line x1="305.2" y1="152.9" x2="310.4" y2="152.9" stroke="#cf1f3a" stroke-width="1.3"/>
<line x1="305.2" y1="160.5" x2="310.4" y2="160.5" stroke="#2a6198" stroke-width="1.3"/>
<line x1="312.9" y1="150" x2="312.9" y2="165" stroke="#333333" stroke-width="1.35"/>
<line x1="312.3" y1="164.4" x2="504" y2="164.4" stroke="#333333" stroke-width="1.35"/>
<text x="323.2" y="155.5" font-size="9" text-anchor="middle" fill="#cf1f3a" textLength="14.42" lengthAdjust="spacingAndGlyphs" stroke="#cf1f3a" stroke-width="0.1">655</text>
<text x="344.9" y="155.5" font-size="9" text-anchor="middle" fill="#cf1f3a" textLength="14.42" lengthAdjust="spacingAndGlyphs" stroke="#cf1f3a" stroke-width="0.1">478</text>
<text x="364.1" y="155.5" font-size="9" text-anchor="middle" fill="#cf1f3a" textLength="14.42" lengthAdjust="spacingAndGlyphs" stroke="#cf1f3a" stroke-width="0.1">383</text>
<text x="384.9" y="155.5" font-size="9" text-anchor="middle" fill="#cf1f3a" textLength="14.42" lengthAdjust="spacingAndGlyphs" stroke="#cf1f3a" stroke-width="0.1">299</text>
<text x="403" y="155.5" font-size="9" text-anchor="middle" fill="#cf1f3a" textLength="14.42" lengthAdjust="spacingAndGlyphs" stroke="#cf1f3a" stroke-width="0.1">221</text>
<text x="421.2" y="155.5" font-size="9" text-anchor="middle" fill="#cf1f3a" textLength="14.42" lengthAdjust="spacingAndGlyphs" stroke="#cf1f3a" stroke-width="0.1">157</text>
<text x="436.4" y="155.5" font-size="9" text-anchor="middle" fill="#cf1f3a" textLength="9.61" lengthAdjust="spacingAndGlyphs" stroke="#cf1f3a" stroke-width="0.1">94</text>
<text x="452.3" y="155.5" font-size="9" text-anchor="middle" fill="#cf1f3a" textLength="9.61" lengthAdjust="spacingAndGlyphs" stroke="#cf1f3a" stroke-width="0.1">58</text>
<text x="470.7" y="155.5" font-size="9" text-anchor="middle" fill="#cf1f3a" textLength="9.61" lengthAdjust="spacingAndGlyphs" stroke="#cf1f3a" stroke-width="0.1">37</text>
<text x="485.3" y="155.5" font-size="9" text-anchor="middle" fill="#cf1f3a" textLength="4.81" lengthAdjust="spacingAndGlyphs" stroke="#cf1f3a" stroke-width="0.1">9</text>
<text x="500.5" y="155.5" font-size="9" text-anchor="middle" fill="#cf1f3a" textLength="4.81" lengthAdjust="spacingAndGlyphs" stroke="#cf1f3a" stroke-width="0.1">0</text>
<text x="323.2" y="163.4" font-size="9" text-anchor="middle" fill="#2a6198" textLength="14.42" lengthAdjust="spacingAndGlyphs" stroke="#2a6198" stroke-width="0.1">160</text>
<text x="344.3" y="163.4" font-size="9" text-anchor="middle" fill="#2a6198" textLength="9.61" lengthAdjust="spacingAndGlyphs" stroke="#2a6198" stroke-width="0.1">90</text>
<text x="364.6" y="163.4" font-size="9" text-anchor="middle" fill="#2a6198" textLength="9.61" lengthAdjust="spacingAndGlyphs" stroke="#2a6198" stroke-width="0.1">60</text>
<text x="383.7" y="163.4" font-size="9" text-anchor="middle" fill="#2a6198" textLength="9.61" lengthAdjust="spacingAndGlyphs" stroke="#2a6198" stroke-width="0.1">46</text>
<text x="399.6" y="163.4" font-size="9" text-anchor="middle" fill="#2a6198" textLength="9.61" lengthAdjust="spacingAndGlyphs" stroke="#2a6198" stroke-width="0.1">26</text>
<text x="417.6" y="163.4" font-size="9" text-anchor="middle" fill="#2a6198" textLength="9.61" lengthAdjust="spacingAndGlyphs" stroke="#2a6198" stroke-width="0.1">16</text>
<text x="436" y="163.4" font-size="9" text-anchor="middle" fill="#2a6198" textLength="4.81" lengthAdjust="spacingAndGlyphs" stroke="#2a6198" stroke-width="0.1">8</text>
<text x="451.5" y="163.4" font-size="9" text-anchor="middle" fill="#2a6198" textLength="4.81" lengthAdjust="spacingAndGlyphs" stroke="#2a6198" stroke-width="0.1">4</text>
<text x="468.8" y="163.4" font-size="9" text-anchor="middle" fill="#2a6198" textLength="4.81" lengthAdjust="spacingAndGlyphs" stroke="#2a6198" stroke-width="0.1">3</text>
<text x="485.3" y="163.4" font-size="9" text-anchor="middle" fill="#2a6198" textLength="4.81" lengthAdjust="spacingAndGlyphs" stroke="#2a6198" stroke-width="0.1">2</text>
<text x="500.5" y="163.4" font-size="9" text-anchor="middle" fill="#2a6198" textLength="4.81" lengthAdjust="spacingAndGlyphs" stroke="#2a6198" stroke-width="0.1">0</text>
<line x1="324.5" y1="164.4" x2="324.5" y2="166.4" stroke="#333333" stroke-width="1"/>
<line x1="343" y1="164.4" x2="343" y2="166.4" stroke="#333333" stroke-width="1"/>
<line x1="365" y1="164.4" x2="365" y2="166.4" stroke="#333333" stroke-width="1"/>
<line x1="385.4" y1="164.4" x2="385.4" y2="166.4" stroke="#333333" stroke-width="1"/>
<line x1="404.7" y1="164.4" x2="404.7" y2="166.4" stroke="#333333" stroke-width="1"/>
<line x1="422" y1="164.4" x2="422" y2="166.4" stroke="#333333" stroke-width="1"/>
<line x1="439.3" y1="164.4" x2="439.3" y2="166.4" stroke="#333333" stroke-width="1"/>
<line x1="453.7" y1="164.4" x2="453.7" y2="166.4" stroke="#333333" stroke-width="1"/>
<line x1="471" y1="164.4" x2="471" y2="166.4" stroke="#333333" stroke-width="1"/>
<line x1="488.2" y1="164.4" x2="488.2" y2="166.4" stroke="#333333" stroke-width="1"/>
<line x1="504" y1="164.4" x2="504" y2="166.4" stroke="#333333" stroke-width="1"/>
<text x="321.25" y="175" font-size="9.2" text-anchor="middle" textLength="4.45" lengthAdjust="spacingAndGlyphs" stroke="#1a1a1a" stroke-width="0.2">0</text>
<text x="340.25" y="175" font-size="9.2" text-anchor="middle" textLength="8.9" lengthAdjust="spacingAndGlyphs" stroke="#1a1a1a" stroke-width="0.2">12</text>
<text x="360.35" y="175" font-size="9.2" text-anchor="middle" textLength="8.9" lengthAdjust="spacingAndGlyphs" stroke="#1a1a1a" stroke-width="0.2">24</text>
<text x="380.65" y="175" font-size="9.2" text-anchor="middle" textLength="8.9" lengthAdjust="spacingAndGlyphs" stroke="#1a1a1a" stroke-width="0.2">36</text>
<text x="399.65" y="175" font-size="9.2" text-anchor="middle" textLength="8.9" lengthAdjust="spacingAndGlyphs" stroke="#1a1a1a" stroke-width="0.2">48</text>
<text x="417.65" y="175" font-size="9.2" text-anchor="middle" textLength="8.9" lengthAdjust="spacingAndGlyphs" stroke="#1a1a1a" stroke-width="0.2">60</text>
<text x="434.95" y="175" font-size="9.2" text-anchor="middle" textLength="8.9" lengthAdjust="spacingAndGlyphs" stroke="#1a1a1a" stroke-width="0.2">72</text>
<text x="448.65" y="175" font-size="9.2" text-anchor="middle" textLength="8.9" lengthAdjust="spacingAndGlyphs" stroke="#1a1a1a" stroke-width="0.2">84</text>
<text x="465.95" y="175" font-size="9.2" text-anchor="middle" textLength="8.9" lengthAdjust="spacingAndGlyphs" stroke="#1a1a1a" stroke-width="0.2">96</text>
<text x="481.45" y="175" font-size="9.2" text-anchor="middle" textLength="13.35" lengthAdjust="spacingAndGlyphs" stroke="#1a1a1a" stroke-width="0.2">108</text>
<text x="497.6" y="175" font-size="9.2" text-anchor="middle" textLength="13.35" lengthAdjust="spacingAndGlyphs" stroke="#1a1a1a" stroke-width="0.2">120</text>
<text x="371.5" y="187.3" font-size="8.4" textLength="75" lengthAdjust="spacingAndGlyphs" stroke="#1a1a1a" stroke-width="0.35">overall survival (months)</text>
<text x="325.4" y="204" font-size="10.2" textLength="99.5" lengthAdjust="spacingAndGlyphs" stroke="#1a1a1a" stroke-width="0.35">Cumulative number of censoring</text>
<text x="289.3" y="214.1" font-size="10.4" text-anchor="middle" fill="#3a3a3a" font-style="italic" textLength="23.2" lengthAdjust="spacingAndGlyphs" transform="rotate(-90 289.3 214.1)" stroke="#3a3a3a" stroke-width="0.05">Strata</text>
<line x1="305.1" y1="211.4" x2="310.8" y2="211.4" stroke="#cf1f3a" stroke-width="1.3"/>
<line x1="305.1" y1="218.3" x2="310.8" y2="218.3" stroke="#2a6198" stroke-width="1.3"/>
<line x1="313.3" y1="207.2" x2="313.3" y2="223" stroke="#333333" stroke-width="1.35"/>
<line x1="312.7" y1="222.4" x2="505.5" y2="222.4" stroke="#333333" stroke-width="1.35"/>
<text x="317.6" y="212.4" font-size="9" text-anchor="middle" fill="#cf1f3a" textLength="4.81" lengthAdjust="spacingAndGlyphs" stroke="#cf1f3a" stroke-width="0.1">0</text>
<text x="329" y="212.4" font-size="9" text-anchor="middle" fill="#cf1f3a" textLength="9.61" lengthAdjust="spacingAndGlyphs" stroke="#cf1f3a" stroke-width="0.1">20</text>
<text x="343.5" y="212.4" font-size="9" text-anchor="middle" fill="#cf1f3a" textLength="9.61" lengthAdjust="spacingAndGlyphs" stroke="#cf1f3a" stroke-width="0.1">48</text>
<text x="362.5" y="212.4" font-size="9" text-anchor="middle" fill="#cf1f3a" textLength="14.42" lengthAdjust="spacingAndGlyphs" stroke="#cf1f3a" stroke-width="0.1">101</text>
<text x="385.5" y="212.4" font-size="9" text-anchor="middle" fill="#cf1f3a" textLength="14.42" lengthAdjust="spacingAndGlyphs" stroke="#cf1f3a" stroke-width="0.1">163</text>
<text x="405.7" y="212.4" font-size="9" text-anchor="middle" fill="#cf1f3a" textLength="14.42" lengthAdjust="spacingAndGlyphs" stroke="#cf1f3a" stroke-width="0.1">217</text>
<text x="424.5" y="212.4" font-size="9" text-anchor="middle" fill="#cf1f3a" textLength="14.42" lengthAdjust="spacingAndGlyphs" stroke="#cf1f3a" stroke-width="0.1">276</text>
<text x="443.2" y="212.4" font-size="9" text-anchor="middle" fill="#cf1f3a" textLength="14.42" lengthAdjust="spacingAndGlyphs" stroke="#cf1f3a" stroke-width="0.1">308</text>
<text x="462.3" y="212.4" font-size="9" text-anchor="middle" fill="#cf1f3a" textLength="14.42" lengthAdjust="spacingAndGlyphs" stroke="#cf1f3a" stroke-width="0.1">329</text>
<text x="480.6" y="212.4" font-size="9" text-anchor="middle" fill="#cf1f3a" textLength="14.42" lengthAdjust="spacingAndGlyphs" stroke="#cf1f3a" stroke-width="0.1">357</text>
<text x="499" y="212.4" font-size="9" text-anchor="middle" fill="#cf1f3a" textLength="14.42" lengthAdjust="spacingAndGlyphs" stroke="#cf1f3a" stroke-width="0.1">366</text>
<text x="317.6" y="221.5" font-size="9" text-anchor="middle" fill="#2a6198" textLength="4.81" lengthAdjust="spacingAndGlyphs" stroke="#2a6198" stroke-width="0.1">0</text>
<text x="328.2" y="221.5" font-size="9" text-anchor="middle" fill="#2a6198" textLength="4.81" lengthAdjust="spacingAndGlyphs" stroke="#2a6198" stroke-width="0.1">7</text>
<text x="344.5" y="221.5" font-size="9" text-anchor="middle" fill="#2a6198" textLength="9.61" lengthAdjust="spacingAndGlyphs" stroke="#2a6198" stroke-width="0.1">11</text>
<text x="362" y="221.5" font-size="9" text-anchor="middle" fill="#2a6198" textLength="9.61" lengthAdjust="spacingAndGlyphs" stroke="#2a6198" stroke-width="0.1">17</text>
<text x="383.9" y="221.5" font-size="9" text-anchor="middle" fill="#2a6198" textLength="9.61" lengthAdjust="spacingAndGlyphs" stroke="#2a6198" stroke-width="0.1">32</text>
<text x="403.2" y="221.5" font-size="9" text-anchor="middle" fill="#2a6198" textLength="9.61" lengthAdjust="spacingAndGlyphs" stroke="#2a6198" stroke-width="0.1">40</text>
<text x="423.3" y="221.5" font-size="9" text-anchor="middle" fill="#2a6198" textLength="9.61" lengthAdjust="spacingAndGlyphs" stroke="#2a6198" stroke-width="0.1">47</text>
<text x="442.4" y="221.5" font-size="9" text-anchor="middle" fill="#2a6198" textLength="9.61" lengthAdjust="spacingAndGlyphs" stroke="#2a6198" stroke-width="0.1">49</text>
<text x="460.8" y="221.5" font-size="9" text-anchor="middle" fill="#2a6198" textLength="9.61" lengthAdjust="spacingAndGlyphs" stroke="#2a6198" stroke-width="0.1">50</text>
<text x="478.8" y="221.5" font-size="9" text-anchor="middle" fill="#2a6198" textLength="9.61" lengthAdjust="spacingAndGlyphs" stroke="#2a6198" stroke-width="0.1">54</text>
<text x="498.3" y="221.5" font-size="9" text-anchor="middle" fill="#2a6198" textLength="9.61" lengthAdjust="spacingAndGlyphs" stroke="#2a6198" stroke-width="0.1">53</text>
<line x1="315.5" y1="222.4" x2="315.5" y2="224.4" stroke="#333333" stroke-width="1"/>
<line x1="327.5" y1="222.4" x2="327.5" y2="224.4" stroke="#333333" stroke-width="1"/>
<line x1="349.9" y1="222.4" x2="349.9" y2="224.4" stroke="#333333" stroke-width="1"/>
<line x1="370.4" y1="222.4" x2="370.4" y2="224.4" stroke="#333333" stroke-width="1"/>
<line x1="388.2" y1="222.4" x2="388.2" y2="224.4" stroke="#333333" stroke-width="1"/>
<line x1="407.6" y1="222.4" x2="407.6" y2="224.4" stroke="#333333" stroke-width="1"/>
<line x1="427.7" y1="222.4" x2="427.7" y2="224.4" stroke="#333333" stroke-width="1"/>
<line x1="446.5" y1="222.4" x2="446.5" y2="224.4" stroke="#333333" stroke-width="1"/>
<line x1="465.2" y1="222.4" x2="465.2" y2="224.4" stroke="#333333" stroke-width="1"/>
<line x1="488.2" y1="222.4" x2="488.2" y2="224.4" stroke="#333333" stroke-width="1"/>
<line x1="505.5" y1="222.4" x2="505.5" y2="224.4" stroke="#333333" stroke-width="1"/>
<text x="316.5" y="232.8" font-size="9.2" text-anchor="middle" textLength="4.45" lengthAdjust="spacingAndGlyphs" stroke="#1a1a1a" stroke-width="0.2">0</text>
<text x="328.45" y="232.8" font-size="9.2" text-anchor="middle" textLength="8.9" lengthAdjust="spacingAndGlyphs" stroke="#1a1a1a" stroke-width="0.2">12</text>
<text x="346.65" y="232.8" font-size="9.2" text-anchor="middle" textLength="8.9" lengthAdjust="spacingAndGlyphs" stroke="#1a1a1a" stroke-width="0.2">24</text>
<text x="365.7" y="232.8" font-size="9.2" text-anchor="middle" textLength="8.9" lengthAdjust="spacingAndGlyphs" stroke="#1a1a1a" stroke-width="0.2">36</text>
<text x="383.45" y="232.8" font-size="9.2" text-anchor="middle" textLength="8.9" lengthAdjust="spacingAndGlyphs" stroke="#1a1a1a" stroke-width="0.2">48</text>
<text x="403.25" y="232.8" font-size="9.2" text-anchor="middle" textLength="8.9" lengthAdjust="spacingAndGlyphs" stroke="#1a1a1a" stroke-width="0.2">60</text>
<text x="423.35" y="232.8" font-size="9.2" text-anchor="middle" textLength="8.9" lengthAdjust="spacingAndGlyphs" stroke="#1a1a1a" stroke-width="0.2">72</text>
<text x="442.15" y="232.8" font-size="9.2" text-anchor="middle" textLength="8.9" lengthAdjust="spacingAndGlyphs" stroke="#1a1a1a" stroke-width="0.2">84</text>
<text x="460.15" y="232.8" font-size="9.2" text-anchor="middle" textLength="8.9" lengthAdjust="spacingAndGlyphs" stroke="#1a1a1a" stroke-width="0.2">96</text>
<text x="481" y="232.8" font-size="9.2" text-anchor="middle" textLength="13.35" lengthAdjust="spacingAndGlyphs" stroke="#1a1a1a" stroke-width="0.2">108</text>
<text x="499.3" y="232.8" font-size="9.2" text-anchor="middle" textLength="13.35" lengthAdjust="spacingAndGlyphs" stroke="#1a1a1a" stroke-width="0.2">120</text>
<text x="371.5" y="244" font-size="8.4" textLength="75" lengthAdjust="spacingAndGlyphs" stroke="#1a1a1a" stroke-width="0.35">overall survival (months)</text>
<text x="70.3" y="397.7" font-size="10.2" textLength="45.5" lengthAdjust="spacingAndGlyphs" stroke="#1a1a1a" stroke-width="0.35">Number at risk</text>
<text x="37.8" y="408.4" font-size="10.4" text-anchor="middle" fill="#3a3a3a" font-style="italic" textLength="24" lengthAdjust="spacingAndGlyphs" transform="rotate(-90 37.8 408.4)" stroke="#3a3a3a" stroke-width="0.05">Strata</text>
<line x1="54.2" y1="404.6" x2="58.8" y2="404.6" stroke="#cf1f3a" stroke-width="1.3"/>
<line x1="54.2" y1="410.9" x2="58.8" y2="410.9" stroke="#2a6198" stroke-width="1.3"/>
<line x1="61.3" y1="400.5" x2="61.3" y2="415.8" stroke="#333333" stroke-width="1.35"/>
<line x1="60.7" y1="415.2" x2="252" y2="415.2" stroke="#333333" stroke-width="1.35"/>
<text x="70" y="406" font-size="9" text-anchor="middle" fill="#cf1f3a" textLength="14.42" lengthAdjust="spacingAndGlyphs" stroke="#cf1f3a" stroke-width="0.1">476</text>
<text x="93.3" y="406" font-size="9" text-anchor="middle" fill="#cf1f3a" textLength="14.42" lengthAdjust="spacingAndGlyphs" stroke="#cf1f3a" stroke-width="0.1">330</text>
<text x="112.9" y="406" font-size="9" text-anchor="middle" fill="#cf1f3a" textLength="14.42" lengthAdjust="spacingAndGlyphs" stroke="#cf1f3a" stroke-width="0.1">261</text>
<text x="132.3" y="406" font-size="9" text-anchor="middle" fill="#cf1f3a" textLength="14.42" lengthAdjust="spacingAndGlyphs" stroke="#cf1f3a" stroke-width="0.1">199</text>
<text x="150.3" y="406" font-size="9" text-anchor="middle" fill="#cf1f3a" textLength="14.42" lengthAdjust="spacingAndGlyphs" stroke="#cf1f3a" stroke-width="0.1">143</text>
<text x="167.9" y="406" font-size="9" text-anchor="middle" fill="#cf1f3a" textLength="14.42" lengthAdjust="spacingAndGlyphs" stroke="#cf1f3a" stroke-width="0.1">100</text>
<text x="184.7" y="406" font-size="9" text-anchor="middle" fill="#cf1f3a" textLength="9.61" lengthAdjust="spacingAndGlyphs" stroke="#cf1f3a" stroke-width="0.1">57</text>
<text x="199.9" y="406" font-size="9" text-anchor="middle" fill="#cf1f3a" textLength="9.61" lengthAdjust="spacingAndGlyphs" stroke="#cf1f3a" stroke-width="0.1">35</text>
<text x="217.7" y="406" font-size="9" text-anchor="middle" fill="#cf1f3a" textLength="9.61" lengthAdjust="spacingAndGlyphs" stroke="#cf1f3a" stroke-width="0.1">22</text>
<text x="235.3" y="406" font-size="9" text-anchor="middle" fill="#cf1f3a" textLength="4.81" lengthAdjust="spacingAndGlyphs" stroke="#cf1f3a" stroke-width="0.1">5</text>
<text x="249.4" y="406" font-size="9" text-anchor="middle" fill="#cf1f3a" textLength="4.81" lengthAdjust="spacingAndGlyphs" stroke="#cf1f3a" stroke-width="0.1">0</text>
<text x="71" y="414.1" font-size="9" text-anchor="middle" fill="#2a6198" textLength="4.81" lengthAdjust="spacingAndGlyphs" stroke="#2a6198" stroke-width="0.1">7</text>
<text x="94.7" y="414.1" font-size="9" text-anchor="middle" fill="#2a6198" textLength="4.81" lengthAdjust="spacingAndGlyphs" stroke="#2a6198" stroke-width="0.1">5</text>
<text x="115" y="414.1" font-size="9" text-anchor="middle" fill="#2a6198" textLength="4.81" lengthAdjust="spacingAndGlyphs" stroke="#2a6198" stroke-width="0.1">3</text>
<text x="134.1" y="414.1" font-size="9" text-anchor="middle" fill="#2a6198" textLength="4.81" lengthAdjust="spacingAndGlyphs" stroke="#2a6198" stroke-width="0.1">3</text>
<text x="149.4" y="414.1" font-size="9" text-anchor="middle" fill="#2a6198" textLength="4.81" lengthAdjust="spacingAndGlyphs" stroke="#2a6198" stroke-width="0.1">3</text>
<text x="167.2" y="414.1" font-size="9" text-anchor="middle" fill="#2a6198" textLength="4.81" lengthAdjust="spacingAndGlyphs" stroke="#2a6198" stroke-width="0.1">0</text>
<text x="184.3" y="414.1" font-size="9" text-anchor="middle" fill="#2a6198" textLength="4.81" lengthAdjust="spacingAndGlyphs" stroke="#2a6198" stroke-width="0.1">0</text>
<text x="199.5" y="414.1" font-size="9" text-anchor="middle" fill="#2a6198" textLength="4.81" lengthAdjust="spacingAndGlyphs" stroke="#2a6198" stroke-width="0.1">0</text>
<text x="217.7" y="414.1" font-size="9" text-anchor="middle" fill="#2a6198" textLength="4.81" lengthAdjust="spacingAndGlyphs" stroke="#2a6198" stroke-width="0.1">0</text>
<text x="235.8" y="414.1" font-size="9" text-anchor="middle" fill="#2a6198" textLength="4.81" lengthAdjust="spacingAndGlyphs" stroke="#2a6198" stroke-width="0.1">0</text>
<text x="249.4" y="414.1" font-size="9" text-anchor="middle" fill="#2a6198" textLength="4.81" lengthAdjust="spacingAndGlyphs" stroke="#2a6198" stroke-width="0.1">0</text>
<line x1="72.7" y1="415.2" x2="72.7" y2="417.2" stroke="#333333" stroke-width="1"/>
<line x1="93.4" y1="415.2" x2="93.4" y2="417.2" stroke="#333333" stroke-width="1"/>
<line x1="114.2" y1="415.2" x2="114.2" y2="417.2" stroke="#333333" stroke-width="1"/>
<line x1="133.2" y1="415.2" x2="133.2" y2="417.2" stroke="#333333" stroke-width="1"/>
<line x1="152.3" y1="415.2" x2="152.3" y2="417.2" stroke="#333333" stroke-width="1"/>
<line x1="168.5" y1="415.2" x2="168.5" y2="417.2" stroke="#333333" stroke-width="1"/>
<line x1="187.4" y1="415.2" x2="187.4" y2="417.2" stroke="#333333" stroke-width="1"/>
<line x1="200.9" y1="415.2" x2="200.9" y2="417.2" stroke="#333333" stroke-width="1"/>
<line x1="218.4" y1="415.2" x2="218.4" y2="417.2" stroke="#333333" stroke-width="1"/>
<line x1="237.2" y1="415.2" x2="237.2" y2="417.2" stroke="#333333" stroke-width="1"/>
<line x1="252" y1="415.2" x2="252" y2="417.2" stroke="#333333" stroke-width="1"/>
<text x="68.75" y="425.7" font-size="9.2" text-anchor="middle" textLength="4.45" lengthAdjust="spacingAndGlyphs" stroke="#1a1a1a" stroke-width="0.2">0</text>
<text x="87.55" y="425.7" font-size="9.2" text-anchor="middle" textLength="8.9" lengthAdjust="spacingAndGlyphs" stroke="#1a1a1a" stroke-width="0.2">12</text>
<text x="108.65" y="425.7" font-size="9.2" text-anchor="middle" textLength="8.9" lengthAdjust="spacingAndGlyphs" stroke="#1a1a1a" stroke-width="0.2">24</text>
<text x="127.05" y="425.7" font-size="9.2" text-anchor="middle" textLength="8.9" lengthAdjust="spacingAndGlyphs" stroke="#1a1a1a" stroke-width="0.2">36</text>
<text x="146.95" y="425.7" font-size="9.2" text-anchor="middle" textLength="8.9" lengthAdjust="spacingAndGlyphs" stroke="#1a1a1a" stroke-width="0.2">48</text>
<text x="161.75" y="425.7" font-size="9.2" text-anchor="middle" textLength="8.9" lengthAdjust="spacingAndGlyphs" stroke="#1a1a1a" stroke-width="0.2">60</text>
<text x="182.7" y="425.7" font-size="9.2" text-anchor="middle" textLength="8.9" lengthAdjust="spacingAndGlyphs" stroke="#1a1a1a" stroke-width="0.2">72</text>
<text x="195.75" y="425.7" font-size="9.2" text-anchor="middle" textLength="8.9" lengthAdjust="spacingAndGlyphs" stroke="#1a1a1a" stroke-width="0.2">84</text>
<text x="213" y="425.7" font-size="9.2" text-anchor="middle" textLength="8.9" lengthAdjust="spacingAndGlyphs" stroke="#1a1a1a" stroke-width="0.2">96</text>
<text x="229.1" y="425.7" font-size="9.2" text-anchor="middle" textLength="13.35" lengthAdjust="spacingAndGlyphs" stroke="#1a1a1a" stroke-width="0.2">108</text>
<text x="246.05" y="425.7" font-size="9.2" text-anchor="middle" textLength="13.35" lengthAdjust="spacingAndGlyphs" stroke="#1a1a1a" stroke-width="0.2">120</text>
<text x="113.7" y="436.7" font-size="10.2" textLength="86.6" lengthAdjust="spacingAndGlyphs" stroke="#1a1a1a" stroke-width="0.35">Event-free survival (months)</text>
<text x="70.3" y="448.6" font-size="10.2" textLength="99.6" lengthAdjust="spacingAndGlyphs" stroke="#1a1a1a" stroke-width="0.35">Cumulative number of censoring</text>
<text x="37.8" y="458.9" font-size="10.4" text-anchor="middle" fill="#3a3a3a" font-style="italic" textLength="24" lengthAdjust="spacingAndGlyphs" transform="rotate(-90 37.8 458.9)" stroke="#3a3a3a" stroke-width="0.05">Strata</text>
<line x1="54.2" y1="456.2" x2="58.8" y2="456.2" stroke="#cf1f3a" stroke-width="1.3"/>
<line x1="54.2" y1="463.2" x2="58.8" y2="463.2" stroke="#2a6198" stroke-width="1.3"/>
<line x1="61.3" y1="452.5" x2="61.3" y2="467.8" stroke="#333333" stroke-width="1.35"/>
<line x1="60.7" y1="467.2" x2="250.7" y2="467.2" stroke="#333333" stroke-width="1.35"/>
<text x="70" y="459.9" font-size="9" text-anchor="middle" fill="#cf1f3a" textLength="4.81" lengthAdjust="spacingAndGlyphs" stroke="#cf1f3a" stroke-width="0.1">0</text>
<text x="83.5" y="459.9" font-size="9" text-anchor="middle" fill="#cf1f3a" textLength="9.61" lengthAdjust="spacingAndGlyphs" stroke="#cf1f3a" stroke-width="0.1">10</text>
<text x="100" y="459.9" font-size="9" text-anchor="middle" fill="#cf1f3a" textLength="9.61" lengthAdjust="spacingAndGlyphs" stroke="#cf1f3a" stroke-width="0.1">28</text>
<text x="115.2" y="459.9" font-size="9" text-anchor="middle" fill="#cf1f3a" textLength="9.61" lengthAdjust="spacingAndGlyphs" stroke="#cf1f3a" stroke-width="0.1">71</text>
<text x="131.8" y="459.9" font-size="9" text-anchor="middle" fill="#cf1f3a" textLength="14.42" lengthAdjust="spacingAndGlyphs" stroke="#cf1f3a" stroke-width="0.1">122</text>
<text x="151" y="459.9" font-size="9" text-anchor="middle" fill="#cf1f3a" textLength="14.42" lengthAdjust="spacingAndGlyphs" stroke="#cf1f3a" stroke-width="0.1">161</text>
<text x="169.5" y="459.9" font-size="9" text-anchor="middle" fill="#cf1f3a" textLength="14.42" lengthAdjust="spacingAndGlyphs" stroke="#cf1f3a" stroke-width="0.1">202</text>
<text x="189.4" y="459.9" font-size="9" text-anchor="middle" fill="#cf1f3a" textLength="14.42" lengthAdjust="spacingAndGlyphs" stroke="#cf1f3a" stroke-width="0.1">223</text>
<text x="206.5" y="459.9" font-size="9" text-anchor="middle" fill="#cf1f3a" textLength="14.42" lengthAdjust="spacingAndGlyphs" stroke="#cf1f3a" stroke-width="0.1">236</text>
<text x="225.2" y="459.9" font-size="9" text-anchor="middle" fill="#cf1f3a" textLength="14.42" lengthAdjust="spacingAndGlyphs" stroke="#cf1f3a" stroke-width="0.1">252</text>
<text x="243.1" y="459.9" font-size="9" text-anchor="middle" fill="#cf1f3a" textLength="14.42" lengthAdjust="spacingAndGlyphs" stroke="#cf1f3a" stroke-width="0.1">257</text>
<text x="70" y="466.9" font-size="9" text-anchor="middle" fill="#2a6198" textLength="4.81" lengthAdjust="spacingAndGlyphs" stroke="#2a6198" stroke-width="0.1">0</text>
<text x="82.8" y="466.9" font-size="9" text-anchor="middle" fill="#2a6198" textLength="4.81" lengthAdjust="spacingAndGlyphs" stroke="#2a6198" stroke-width="0.1">0</text>
<text x="99.7" y="466.9" font-size="9" text-anchor="middle" fill="#2a6198" textLength="4.81" lengthAdjust="spacingAndGlyphs" stroke="#2a6198" stroke-width="0.1">0</text>
<text x="113.9" y="466.9" font-size="9" text-anchor="middle" fill="#2a6198" textLength="4.81" lengthAdjust="spacingAndGlyphs" stroke="#2a6198" stroke-width="0.1">0</text>
<text x="131" y="466.9" font-size="9" text-anchor="middle" fill="#2a6198" textLength="4.81" lengthAdjust="spacingAndGlyphs" stroke="#2a6198" stroke-width="0.1">0</text>
<text x="150" y="466.9" font-size="9" text-anchor="middle" fill="#2a6198" textLength="4.81" lengthAdjust="spacingAndGlyphs" stroke="#2a6198" stroke-width="0.1">1</text>
<text x="168.5" y="466.9" font-size="9" text-anchor="middle" fill="#2a6198" textLength="4.81" lengthAdjust="spacingAndGlyphs" stroke="#2a6198" stroke-width="0.1">2</text>
<text x="188.7" y="466.9" font-size="9" text-anchor="middle" fill="#2a6198" textLength="4.81" lengthAdjust="spacingAndGlyphs" stroke="#2a6198" stroke-width="0.1">2</text>
<text x="206.2" y="466.9" font-size="9" text-anchor="middle" fill="#2a6198" textLength="4.81" lengthAdjust="spacingAndGlyphs" stroke="#2a6198" stroke-width="0.1">2</text>
<text x="225.2" y="466.9" font-size="9" text-anchor="middle" fill="#2a6198" textLength="4.81" lengthAdjust="spacingAndGlyphs" stroke="#2a6198" stroke-width="0.1">2</text>
<text x="243.3" y="466.9" font-size="9" text-anchor="middle" fill="#2a6198" textLength="4.81" lengthAdjust="spacingAndGlyphs" stroke="#2a6198" stroke-width="0.1">2</text>
<line x1="66.2" y1="467.2" x2="66.2" y2="469.2" stroke="#333333" stroke-width="1"/>
<line x1="86.2" y1="467.2" x2="86.2" y2="469.2" stroke="#333333" stroke-width="1"/>
<line x1="105" y1="467.2" x2="105" y2="469.2" stroke="#333333" stroke-width="1"/>
<line x1="121" y1="467.2" x2="121" y2="469.2" stroke="#333333" stroke-width="1"/>
<line x1="136" y1="467.2" x2="136" y2="469.2" stroke="#333333" stroke-width="1"/>
<line x1="152" y1="467.2" x2="152" y2="469.2" stroke="#333333" stroke-width="1"/>
<line x1="172" y1="467.2" x2="172" y2="469.2" stroke="#333333" stroke-width="1"/>
<line x1="189" y1="467.2" x2="189" y2="469.2" stroke="#333333" stroke-width="1"/>
<line x1="207" y1="467.2" x2="207" y2="469.2" stroke="#333333" stroke-width="1"/>
<line x1="226" y1="467.2" x2="226" y2="469.2" stroke="#333333" stroke-width="1"/>
<line x1="247" y1="467.2" x2="247" y2="469.2" stroke="#333333" stroke-width="1"/>
<text x="69.4" y="477" font-size="9.2" text-anchor="middle" textLength="4.45" lengthAdjust="spacingAndGlyphs" stroke="#1a1a1a" stroke-width="0.2">0</text>
<text x="88.8" y="477" font-size="9.2" text-anchor="middle" textLength="8.9" lengthAdjust="spacingAndGlyphs" stroke="#1a1a1a" stroke-width="0.2">12</text>
<text x="105.45" y="477" font-size="9.2" text-anchor="middle" textLength="8.9" lengthAdjust="spacingAndGlyphs" stroke="#1a1a1a" stroke-width="0.2">24</text>
<text x="121" y="477" font-size="9.2" text-anchor="middle" textLength="8.9" lengthAdjust="spacingAndGlyphs" stroke="#1a1a1a" stroke-width="0.2">36</text>
<text x="136.85" y="477" font-size="9.2" text-anchor="middle" textLength="8.9" lengthAdjust="spacingAndGlyphs" stroke="#1a1a1a" stroke-width="0.2">48</text>
<text x="151.7" y="477" font-size="9.2" text-anchor="middle" textLength="8.9" lengthAdjust="spacingAndGlyphs" stroke="#1a1a1a" stroke-width="0.2">60</text>
<text x="172.15" y="477" font-size="9.2" text-anchor="middle" textLength="8.9" lengthAdjust="spacingAndGlyphs" stroke="#1a1a1a" stroke-width="0.2">72</text>
<text x="188.7" y="477" font-size="9.2" text-anchor="middle" textLength="8.9" lengthAdjust="spacingAndGlyphs" stroke="#1a1a1a" stroke-width="0.2">84</text>
<text x="206.9" y="477" font-size="9.2" text-anchor="middle" textLength="8.9" lengthAdjust="spacingAndGlyphs" stroke="#1a1a1a" stroke-width="0.2">96</text>
<text x="226.45" y="477" font-size="9.2" text-anchor="middle" textLength="13.35" lengthAdjust="spacingAndGlyphs" stroke="#1a1a1a" stroke-width="0.2">108</text>
<text x="246.7" y="477" font-size="9.2" text-anchor="middle" textLength="13.35" lengthAdjust="spacingAndGlyphs" stroke="#1a1a1a" stroke-width="0.2">120</text>
<text x="114.3" y="490.8" font-size="10.2" textLength="86" lengthAdjust="spacingAndGlyphs" stroke="#1a1a1a" stroke-width="0.35">Event-free survival (months)</text>
<text x="325" y="397.7" font-size="10.2" textLength="45.4" lengthAdjust="spacingAndGlyphs" stroke="#1a1a1a" stroke-width="0.35">Number at risk</text>
<text x="289.4" y="407.8" font-size="10.4" text-anchor="middle" fill="#3a3a3a" font-style="italic" textLength="24" lengthAdjust="spacingAndGlyphs" transform="rotate(-90 289.4 407.8)" stroke="#3a3a3a" stroke-width="0.05">Strata</text>
<line x1="305" y1="404.2" x2="310.2" y2="404.2" stroke="#cf1f3a" stroke-width="1.3"/>
<line x1="305" y1="410.9" x2="310.2" y2="410.9" stroke="#2a6198" stroke-width="1.3"/>
<line x1="312.7" y1="400.5" x2="312.7" y2="415.8" stroke="#333333" stroke-width="1.35"/>
<line x1="312.1" y1="415.2" x2="503.4" y2="415.2" stroke="#333333" stroke-width="1.35"/>
<text x="321.2" y="406.3" font-size="9" text-anchor="middle" fill="#cf1f3a" textLength="14.42" lengthAdjust="spacingAndGlyphs" stroke="#cf1f3a" stroke-width="0.1">325</text>
<text x="345.3" y="406.3" font-size="9" text-anchor="middle" fill="#cf1f3a" textLength="14.42" lengthAdjust="spacingAndGlyphs" stroke="#cf1f3a" stroke-width="0.1">181</text>
<text x="365.3" y="406.3" font-size="9" text-anchor="middle" fill="#cf1f3a" textLength="14.42" lengthAdjust="spacingAndGlyphs" stroke="#cf1f3a" stroke-width="0.1">144</text>
<text x="384.4" y="406.3" font-size="9" text-anchor="middle" fill="#cf1f3a" textLength="14.42" lengthAdjust="spacingAndGlyphs" stroke="#cf1f3a" stroke-width="0.1">102</text>
<text x="404.1" y="406.3" font-size="9" text-anchor="middle" fill="#cf1f3a" textLength="9.61" lengthAdjust="spacingAndGlyphs" stroke="#cf1f3a" stroke-width="0.1">65</text>
<text x="421.5" y="406.3" font-size="9" text-anchor="middle" fill="#cf1f3a" textLength="9.61" lengthAdjust="spacingAndGlyphs" stroke="#cf1f3a" stroke-width="0.1">38</text>
<text x="437" y="406.3" font-size="9" text-anchor="middle" fill="#cf1f3a" textLength="9.61" lengthAdjust="spacingAndGlyphs" stroke="#cf1f3a" stroke-width="0.1">19</text>
<text x="452.2" y="406.3" font-size="9" text-anchor="middle" fill="#cf1f3a" textLength="9.61" lengthAdjust="spacingAndGlyphs" stroke="#cf1f3a" stroke-width="0.1">12</text>
<text x="471.8" y="406.3" font-size="9" text-anchor="middle" fill="#cf1f3a" textLength="4.81" lengthAdjust="spacingAndGlyphs" stroke="#cf1f3a" stroke-width="0.1">8</text>
<text x="486.6" y="406.3" font-size="9" text-anchor="middle" fill="#cf1f3a" textLength="4.81" lengthAdjust="spacingAndGlyphs" stroke="#cf1f3a" stroke-width="0.1">4</text>
<text x="501.1" y="406.3" font-size="9" text-anchor="middle" fill="#cf1f3a" textLength="4.81" lengthAdjust="spacingAndGlyphs" stroke="#cf1f3a" stroke-width="0.1">0</text>
<text x="320.8" y="414.2" font-size="9" text-anchor="middle" fill="#2a6198" textLength="9.61" lengthAdjust="spacingAndGlyphs" stroke="#2a6198" stroke-width="0.1">10</text>
<text x="346.5" y="414.2" font-size="9" text-anchor="middle" fill="#2a6198" textLength="4.81" lengthAdjust="spacingAndGlyphs" stroke="#2a6198" stroke-width="0.1">4</text>
<text x="366.2" y="414.2" font-size="9" text-anchor="middle" fill="#2a6198" textLength="4.81" lengthAdjust="spacingAndGlyphs" stroke="#2a6198" stroke-width="0.1">3</text>
<text x="385.3" y="414.2" font-size="9" text-anchor="middle" fill="#2a6198" textLength="4.81" lengthAdjust="spacingAndGlyphs" stroke="#2a6198" stroke-width="0.1">1</text>
<text x="401.6" y="414.2" font-size="9" text-anchor="middle" fill="#2a6198" textLength="4.81" lengthAdjust="spacingAndGlyphs" stroke="#2a6198" stroke-width="0.1">0</text>
<text x="418.6" y="414.2" font-size="9" text-anchor="middle" fill="#2a6198" textLength="4.81" lengthAdjust="spacingAndGlyphs" stroke="#2a6198" stroke-width="0.1">0</text>
<text x="436.1" y="414.2" font-size="9" text-anchor="middle" fill="#2a6198" textLength="4.81" lengthAdjust="spacingAndGlyphs" stroke="#2a6198" stroke-width="0.1">0</text>
<text x="451.3" y="414.2" font-size="9" text-anchor="middle" fill="#2a6198" textLength="4.81" lengthAdjust="spacingAndGlyphs" stroke="#2a6198" stroke-width="0.1">0</text>
<text x="469.6" y="414.2" font-size="9" text-anchor="middle" fill="#2a6198" textLength="4.81" lengthAdjust="spacingAndGlyphs" stroke="#2a6198" stroke-width="0.1">0</text>
<text x="486.6" y="414.2" font-size="9" text-anchor="middle" fill="#2a6198" textLength="4.81" lengthAdjust="spacingAndGlyphs" stroke="#2a6198" stroke-width="0.1">0</text>
<text x="501.1" y="414.2" font-size="9" text-anchor="middle" fill="#2a6198" textLength="4.81" lengthAdjust="spacingAndGlyphs" stroke="#2a6198" stroke-width="0.1">0</text>
<line x1="323.6" y1="415.2" x2="323.6" y2="417.2" stroke="#333333" stroke-width="1"/>
<line x1="343.9" y1="415.2" x2="343.9" y2="417.2" stroke="#333333" stroke-width="1"/>
<line x1="364.7" y1="415.2" x2="364.7" y2="417.2" stroke="#333333" stroke-width="1"/>
<line x1="383.2" y1="415.2" x2="383.2" y2="417.2" stroke="#333333" stroke-width="1"/>
<line x1="404.5" y1="415.2" x2="404.5" y2="417.2" stroke="#333333" stroke-width="1"/>
<line x1="420.7" y1="415.2" x2="420.7" y2="417.2" stroke="#333333" stroke-width="1"/>
<line x1="438.7" y1="415.2" x2="438.7" y2="417.2" stroke="#333333" stroke-width="1"/>
<line x1="452.2" y1="415.2" x2="452.2" y2="417.2" stroke="#333333" stroke-width="1"/>
<line x1="469.7" y1="415.2" x2="469.7" y2="417.2" stroke="#333333" stroke-width="1"/>
<line x1="488.6" y1="415.2" x2="488.6" y2="417.2" stroke="#333333" stroke-width="1"/>
<line x1="503.4" y1="415.2" x2="503.4" y2="417.2" stroke="#333333" stroke-width="1"/>
<text x="321.05" y="425.3" font-size="9.2" text-anchor="middle" textLength="4.45" lengthAdjust="spacingAndGlyphs" stroke="#1a1a1a" stroke-width="0.2">0</text>
<text x="339.9" y="425.3" font-size="9.2" text-anchor="middle" textLength="8.9" lengthAdjust="spacingAndGlyphs" stroke="#1a1a1a" stroke-width="0.2">12</text>
<text x="359.85" y="425.3" font-size="9.2" text-anchor="middle" textLength="8.9" lengthAdjust="spacingAndGlyphs" stroke="#1a1a1a" stroke-width="0.2">24</text>
<text x="378.75" y="425.3" font-size="9.2" text-anchor="middle" textLength="8.9" lengthAdjust="spacingAndGlyphs" stroke="#1a1a1a" stroke-width="0.2">36</text>
<text x="398.7" y="425.3" font-size="9.2" text-anchor="middle" textLength="8.9" lengthAdjust="spacingAndGlyphs" stroke="#1a1a1a" stroke-width="0.2">48</text>
<text x="415.3" y="425.3" font-size="9.2" text-anchor="middle" textLength="8.9" lengthAdjust="spacingAndGlyphs" stroke="#1a1a1a" stroke-width="0.2">60</text>
<text x="433.75" y="425.3" font-size="9.2" text-anchor="middle" textLength="8.9" lengthAdjust="spacingAndGlyphs" stroke="#1a1a1a" stroke-width="0.2">72</text>
<text x="446.8" y="425.3" font-size="9.2" text-anchor="middle" textLength="8.9" lengthAdjust="spacingAndGlyphs" stroke="#1a1a1a" stroke-width="0.2">84</text>
<text x="464.35" y="425.3" font-size="9.2" text-anchor="middle" textLength="8.9" lengthAdjust="spacingAndGlyphs" stroke="#1a1a1a" stroke-width="0.2">96</text>
<text x="479.85" y="425.3" font-size="9.2" text-anchor="middle" textLength="13.35" lengthAdjust="spacingAndGlyphs" stroke="#1a1a1a" stroke-width="0.2">108</text>
<text x="497.1" y="425.3" font-size="9.2" text-anchor="middle" textLength="13.35" lengthAdjust="spacingAndGlyphs" stroke="#1a1a1a" stroke-width="0.2">120</text>
<text x="365.9" y="435.9" font-size="10.2" textLength="86.3" lengthAdjust="spacingAndGlyphs" stroke="#1a1a1a" stroke-width="0.35">Event-free survival (months)</text>
<text x="325" y="447.7" font-size="10.2" textLength="100.3" lengthAdjust="spacingAndGlyphs" stroke="#1a1a1a" stroke-width="0.35">Cumulative number of censoring</text>
<text x="289.4" y="457.8" font-size="10.4" text-anchor="middle" fill="#3a3a3a" font-style="italic" textLength="24" lengthAdjust="spacingAndGlyphs" transform="rotate(-90 289.4 457.8)" stroke="#3a3a3a" stroke-width="0.05">Strata</text>
<line x1="305.8" y1="455.3" x2="311.1" y2="455.3" stroke="#cf1f3a" stroke-width="1.3"/>
<line x1="305.8" y1="462.3" x2="311.1" y2="462.3" stroke="#2a6198" stroke-width="1.3"/>
<line x1="313.2" y1="451.5" x2="313.2" y2="466.9" stroke="#333333" stroke-width="1.35"/>
<line x1="312.6" y1="466.3" x2="503.4" y2="466.3" stroke="#333333" stroke-width="1.35"/>
<text x="322" y="457.6" font-size="9" text-anchor="middle" fill="#cf1f3a" textLength="4.81" lengthAdjust="spacingAndGlyphs" stroke="#cf1f3a" stroke-width="0.1">0</text>
<text x="334.9" y="457.6" font-size="9" text-anchor="middle" fill="#cf1f3a" textLength="9.61" lengthAdjust="spacingAndGlyphs" stroke="#cf1f3a" stroke-width="0.1">10</text>
<text x="351.3" y="457.6" font-size="9" text-anchor="middle" fill="#cf1f3a" textLength="9.61" lengthAdjust="spacingAndGlyphs" stroke="#cf1f3a" stroke-width="0.1">28</text>
<text x="366.4" y="457.6" font-size="9" text-anchor="middle" fill="#cf1f3a" textLength="9.61" lengthAdjust="spacingAndGlyphs" stroke="#cf1f3a" stroke-width="0.1">71</text>
<text x="383.8" y="457.6" font-size="9" text-anchor="middle" fill="#cf1f3a" textLength="14.42" lengthAdjust="spacingAndGlyphs" stroke="#cf1f3a" stroke-width="0.1">122</text>
<text x="402.6" y="457.6" font-size="9" text-anchor="middle" fill="#cf1f3a" textLength="14.42" lengthAdjust="spacingAndGlyphs" stroke="#cf1f3a" stroke-width="0.1">161</text>
<text x="421.5" y="457.6" font-size="9" text-anchor="middle" fill="#cf1f3a" textLength="14.42" lengthAdjust="spacingAndGlyphs" stroke="#cf1f3a" stroke-width="0.1">202</text>
<text x="441.8" y="457.6" font-size="9" text-anchor="middle" fill="#cf1f3a" textLength="14.42" lengthAdjust="spacingAndGlyphs" stroke="#cf1f3a" stroke-width="0.1">223</text>
<text x="459" y="457.6" font-size="9" text-anchor="middle" fill="#cf1f3a" textLength="14.42" lengthAdjust="spacingAndGlyphs" stroke="#cf1f3a" stroke-width="0.1">236</text>
<text x="477.2" y="457.6" font-size="9" text-anchor="middle" fill="#cf1f3a" textLength="14.42" lengthAdjust="spacingAndGlyphs" stroke="#cf1f3a" stroke-width="0.1">252</text>
<text x="496" y="457.6" font-size="9" text-anchor="middle" fill="#cf1f3a" textLength="14.42" lengthAdjust="spacingAndGlyphs" stroke="#cf1f3a" stroke-width="0.1">257</text>
<text x="322" y="465" font-size="9" text-anchor="middle" fill="#2a6198" textLength="4.81" lengthAdjust="spacingAndGlyphs" stroke="#2a6198" stroke-width="0.1">0</text>
<text x="334.7" y="465" font-size="9" text-anchor="middle" fill="#2a6198" textLength="4.81" lengthAdjust="spacingAndGlyphs" stroke="#2a6198" stroke-width="0.1">0</text>
<text x="350.8" y="465" font-size="9" text-anchor="middle" fill="#2a6198" textLength="4.81" lengthAdjust="spacingAndGlyphs" stroke="#2a6198" stroke-width="0.1">0</text>
<text x="364.9" y="465" font-size="9" text-anchor="middle" fill="#2a6198" textLength="4.81" lengthAdjust="spacingAndGlyphs" stroke="#2a6198" stroke-width="0.1">0</text>
<text x="382.8" y="465" font-size="9" text-anchor="middle" fill="#2a6198" textLength="4.81" lengthAdjust="spacingAndGlyphs" stroke="#2a6198" stroke-width="0.1">0</text>
<text x="401.6" y="465" font-size="9" text-anchor="middle" fill="#2a6198" textLength="4.81" lengthAdjust="spacingAndGlyphs" stroke="#2a6198" stroke-width="0.1">1</text>
<text x="420.5" y="465" font-size="9" text-anchor="middle" fill="#2a6198" textLength="4.81" lengthAdjust="spacingAndGlyphs" stroke="#2a6198" stroke-width="0.1">2</text>
<text x="440.8" y="465" font-size="9" text-anchor="middle" fill="#2a6198" textLength="4.81" lengthAdjust="spacingAndGlyphs" stroke="#2a6198" stroke-width="0.1">2</text>
<text x="458.3" y="465" font-size="9" text-anchor="middle" fill="#2a6198" textLength="4.81" lengthAdjust="spacingAndGlyphs" stroke="#2a6198" stroke-width="0.1">2</text>
<text x="476.5" y="465" font-size="9" text-anchor="middle" fill="#2a6198" textLength="4.81" lengthAdjust="spacingAndGlyphs" stroke="#2a6198" stroke-width="0.1">2</text>
<text x="495.4" y="465" font-size="9" text-anchor="middle" fill="#2a6198" textLength="4.81" lengthAdjust="spacingAndGlyphs" stroke="#2a6198" stroke-width="0.1">2</text>
<line x1="318.2" y1="466.3" x2="318.2" y2="468.3" stroke="#333333" stroke-width="1"/>
<line x1="337.4" y1="466.3" x2="337.4" y2="468.3" stroke="#333333" stroke-width="1"/>
<line x1="356" y1="466.3" x2="356" y2="468.3" stroke="#333333" stroke-width="1"/>
<line x1="373" y1="466.3" x2="373" y2="468.3" stroke="#333333" stroke-width="1"/>
<line x1="389" y1="466.3" x2="389" y2="468.3" stroke="#333333" stroke-width="1"/>
<line x1="404" y1="466.3" x2="404" y2="468.3" stroke="#333333" stroke-width="1"/>
<line x1="425" y1="466.3" x2="425" y2="468.3" stroke="#333333" stroke-width="1"/>
<line x1="441" y1="466.3" x2="441" y2="468.3" stroke="#333333" stroke-width="1"/>
<line x1="460" y1="466.3" x2="460" y2="468.3" stroke="#333333" stroke-width="1"/>
<line x1="480" y1="466.3" x2="480" y2="468.3" stroke="#333333" stroke-width="1"/>
<line x1="498" y1="466.3" x2="498" y2="468.3" stroke="#333333" stroke-width="1"/>
<text x="321.4" y="476" font-size="9.2" text-anchor="middle" textLength="4.45" lengthAdjust="spacingAndGlyphs" stroke="#1a1a1a" stroke-width="0.2">0</text>
<text x="340.45" y="476" font-size="9.2" text-anchor="middle" textLength="8.9" lengthAdjust="spacingAndGlyphs" stroke="#1a1a1a" stroke-width="0.2">12</text>
<text x="356.95" y="476" font-size="9.2" text-anchor="middle" textLength="8.9" lengthAdjust="spacingAndGlyphs" stroke="#1a1a1a" stroke-width="0.2">24</text>
<text x="372.2" y="476" font-size="9.2" text-anchor="middle" textLength="8.9" lengthAdjust="spacingAndGlyphs" stroke="#1a1a1a" stroke-width="0.2">36</text>
<text x="388.6" y="476" font-size="9.2" text-anchor="middle" textLength="8.9" lengthAdjust="spacingAndGlyphs" stroke="#1a1a1a" stroke-width="0.2">48</text>
<text x="403.7" y="476" font-size="9.2" text-anchor="middle" textLength="8.9" lengthAdjust="spacingAndGlyphs" stroke="#1a1a1a" stroke-width="0.2">60</text>
<text x="424.85" y="476" font-size="9.2" text-anchor="middle" textLength="8.9" lengthAdjust="spacingAndGlyphs" stroke="#1a1a1a" stroke-width="0.2">72</text>
<text x="441" y="476" font-size="9.2" text-anchor="middle" textLength="8.9" lengthAdjust="spacingAndGlyphs" stroke="#1a1a1a" stroke-width="0.2">84</text>
<text x="459.6" y="476" font-size="9.2" text-anchor="middle" textLength="8.9" lengthAdjust="spacingAndGlyphs" stroke="#1a1a1a" stroke-width="0.2">96</text>
<text x="480.5" y="476" font-size="9.2" text-anchor="middle" textLength="13.35" lengthAdjust="spacingAndGlyphs" stroke="#1a1a1a" stroke-width="0.2">108</text>
<text x="497.35" y="476" font-size="9.2" text-anchor="middle" textLength="13.35" lengthAdjust="spacingAndGlyphs" stroke="#1a1a1a" stroke-width="0.2">120</text>
<text x="365.9" y="488.4" font-size="10.2" textLength="86.3" lengthAdjust="spacingAndGlyphs" stroke="#1a1a1a" stroke-width="0.35">Event-free survival (months)</text>
<text x="70.3" y="630" font-size="10.2" textLength="45.5" lengthAdjust="spacingAndGlyphs" stroke="#1a1a1a" stroke-width="0.35">Number at risk</text>
<text x="37.8" y="641.2" font-size="10.4" text-anchor="middle" fill="#3a3a3a" font-style="italic" textLength="24" lengthAdjust="spacingAndGlyphs" transform="rotate(-90 37.8 641.2)" stroke="#3a3a3a" stroke-width="0.05">Strata</text>
<line x1="54.2" y1="636.9" x2="58.8" y2="636.9" stroke="#cf1f3a" stroke-width="1.3"/>
<line x1="54.2" y1="643.9" x2="58.8" y2="643.9" stroke="#2a6198" stroke-width="1.3"/>
<line x1="61.3" y1="633" x2="61.3" y2="648.7" stroke="#333333" stroke-width="1.35"/>
<line x1="60.7" y1="648.1" x2="252" y2="648.1" stroke="#333333" stroke-width="1.35"/>
<text x="72" y="639.5" font-size="9" text-anchor="middle" fill="#cf1f3a" textLength="14.42" lengthAdjust="spacingAndGlyphs" stroke="#cf1f3a" stroke-width="0.1">476</text>
<text x="93.7" y="639.5" font-size="9" text-anchor="middle" fill="#cf1f3a" textLength="14.42" lengthAdjust="spacingAndGlyphs" stroke="#cf1f3a" stroke-width="0.1">379</text>
<text x="113.2" y="639.5" font-size="9" text-anchor="middle" fill="#cf1f3a" textLength="14.42" lengthAdjust="spacingAndGlyphs" stroke="#cf1f3a" stroke-width="0.1">316</text>
<text x="132.3" y="639.5" font-size="9" text-anchor="middle" fill="#cf1f3a" textLength="14.42" lengthAdjust="spacingAndGlyphs" stroke="#cf1f3a" stroke-width="0.1">238</text>
<text x="150.3" y="639.5" font-size="9" text-anchor="middle" fill="#cf1f3a" textLength="14.42" lengthAdjust="spacingAndGlyphs" stroke="#cf1f3a" stroke-width="0.1">168</text>
<text x="167.9" y="639.5" font-size="9" text-anchor="middle" fill="#cf1f3a" textLength="14.42" lengthAdjust="spacingAndGlyphs" stroke="#cf1f3a" stroke-width="0.1">117</text>
<text x="184.7" y="639.5" font-size="9" text-anchor="middle" fill="#cf1f3a" textLength="9.61" lengthAdjust="spacingAndGlyphs" stroke="#cf1f3a" stroke-width="0.1">66</text>
<text x="199.5" y="639.5" font-size="9" text-anchor="middle" fill="#cf1f3a" textLength="9.61" lengthAdjust="spacingAndGlyphs" stroke="#cf1f3a" stroke-width="0.1">41</text>
<text x="217.7" y="639.5" font-size="9" text-anchor="middle" fill="#cf1f3a" textLength="9.61" lengthAdjust="spacingAndGlyphs" stroke="#cf1f3a" stroke-width="0.1">27</text>
<text x="235.3" y="639.5" font-size="9" text-anchor="middle" fill="#cf1f3a" textLength="4.81" lengthAdjust="spacingAndGlyphs" stroke="#cf1f3a" stroke-width="0.1">5</text>
<text x="249.4" y="639.5" font-size="9" text-anchor="middle" fill="#cf1f3a" textLength="4.81" lengthAdjust="spacingAndGlyphs" stroke="#cf1f3a" stroke-width="0.1">0</text>
<text x="71" y="647.6" font-size="9" text-anchor="middle" fill="#2a6198" textLength="4.81" lengthAdjust="spacingAndGlyphs" stroke="#2a6198" stroke-width="0.1">7</text>
<text x="95" y="647.6" font-size="9" text-anchor="middle" fill="#2a6198" textLength="4.81" lengthAdjust="spacingAndGlyphs" stroke="#2a6198" stroke-width="0.1">5</text>
<text x="115.2" y="647.6" font-size="9" text-anchor="middle" fill="#2a6198" textLength="4.81" lengthAdjust="spacingAndGlyphs" stroke="#2a6198" stroke-width="0.1">3</text>
<text x="134.2" y="647.6" font-size="9" text-anchor="middle" fill="#2a6198" textLength="4.81" lengthAdjust="spacingAndGlyphs" stroke="#2a6198" stroke-width="0.1">3</text>
<text x="149.4" y="647.6" font-size="9" text-anchor="middle" fill="#2a6198" textLength="4.81" lengthAdjust="spacingAndGlyphs" stroke="#2a6198" stroke-width="0.1">3</text>
<text x="166.7" y="647.6" font-size="9" text-anchor="middle" fill="#2a6198" textLength="4.81" lengthAdjust="spacingAndGlyphs" stroke="#2a6198" stroke-width="0.1">1</text>
<text x="184.3" y="647.6" font-size="9" text-anchor="middle" fill="#2a6198" textLength="4.81" lengthAdjust="spacingAndGlyphs" stroke="#2a6198" stroke-width="0.1">0</text>
<text x="199.5" y="647.6" font-size="9" text-anchor="middle" fill="#2a6198" textLength="4.81" lengthAdjust="spacingAndGlyphs" stroke="#2a6198" stroke-width="0.1">0</text>
<text x="217.7" y="647.6" font-size="9" text-anchor="middle" fill="#2a6198" textLength="4.81" lengthAdjust="spacingAndGlyphs" stroke="#2a6198" stroke-width="0.1">0</text>
<text x="235.8" y="647.6" font-size="9" text-anchor="middle" fill="#2a6198" textLength="4.81" lengthAdjust="spacingAndGlyphs" stroke="#2a6198" stroke-width="0.1">0</text>
<text x="249.4" y="647.6" font-size="9" text-anchor="middle" fill="#2a6198" textLength="4.81" lengthAdjust="spacingAndGlyphs" stroke="#2a6198" stroke-width="0.1">0</text>
<line x1="72" y1="648.1" x2="72" y2="650.1" stroke="#333333" stroke-width="1"/>
<line x1="93.4" y1="648.1" x2="93.4" y2="650.1" stroke="#333333" stroke-width="1"/>
<line x1="114.7" y1="648.1" x2="114.7" y2="650.1" stroke="#333333" stroke-width="1"/>
<line x1="133.2" y1="648.1" x2="133.2" y2="650.1" stroke="#333333" stroke-width="1"/>
<line x1="152.3" y1="648.1" x2="152.3" y2="650.1" stroke="#333333" stroke-width="1"/>
<line x1="168.5" y1="648.1" x2="168.5" y2="650.1" stroke="#333333" stroke-width="1"/>
<line x1="187.9" y1="648.1" x2="187.9" y2="650.1" stroke="#333333" stroke-width="1"/>
<line x1="200.9" y1="648.1" x2="200.9" y2="650.1" stroke="#333333" stroke-width="1"/>
<line x1="218.4" y1="648.1" x2="218.4" y2="650.1" stroke="#333333" stroke-width="1"/>
<line x1="238.6" y1="648.1" x2="238.6" y2="650.1" stroke="#333333" stroke-width="1"/>
<line x1="252" y1="648.1" x2="252" y2="650.1" stroke="#333333" stroke-width="1"/>
<text x="69.3" y="657.8" font-size="9.2" text-anchor="middle" textLength="4.45" lengthAdjust="spacingAndGlyphs" stroke="#1a1a1a" stroke-width="0.2">0</text>
<text x="88.45" y="657.8" font-size="9.2" text-anchor="middle" textLength="8.9" lengthAdjust="spacingAndGlyphs" stroke="#1a1a1a" stroke-width="0.2">12</text>
<text x="109.15" y="657.8" font-size="9.2" text-anchor="middle" textLength="8.9" lengthAdjust="spacingAndGlyphs" stroke="#1a1a1a" stroke-width="0.2">24</text>
<text x="127.3" y="657.8" font-size="9.2" text-anchor="middle" textLength="8.9" lengthAdjust="spacingAndGlyphs" stroke="#1a1a1a" stroke-width="0.2">36</text>
<text x="147.6" y="657.8" font-size="9.2" text-anchor="middle" textLength="8.9" lengthAdjust="spacingAndGlyphs" stroke="#1a1a1a" stroke-width="0.2">48</text>
<text x="163.1" y="657.8" font-size="9.2" text-anchor="middle" textLength="8.9" lengthAdjust="spacingAndGlyphs" stroke="#1a1a1a" stroke-width="0.2">60</text>
<text x="183.35" y="657.8" font-size="9.2" text-anchor="middle" textLength="8.9" lengthAdjust="spacingAndGlyphs" stroke="#1a1a1a" stroke-width="0.2">72</text>
<text x="196.15" y="657.8" font-size="9.2" text-anchor="middle" textLength="8.9" lengthAdjust="spacingAndGlyphs" stroke="#1a1a1a" stroke-width="0.2">84</text>
<text x="213.65" y="657.8" font-size="9.2" text-anchor="middle" textLength="8.9" lengthAdjust="spacingAndGlyphs" stroke="#1a1a1a" stroke-width="0.2">96</text>
<text x="230.5" y="657.8" font-size="9.2" text-anchor="middle" textLength="13.35" lengthAdjust="spacingAndGlyphs" stroke="#1a1a1a" stroke-width="0.2">108</text>
<text x="246.7" y="657.8" font-size="9.2" text-anchor="middle" textLength="13.35" lengthAdjust="spacingAndGlyphs" stroke="#1a1a1a" stroke-width="0.2">120</text>
<text x="118.2" y="667.1" font-size="8.4" textLength="74.6" lengthAdjust="spacingAndGlyphs" stroke="#1a1a1a" stroke-width="0.35">overall survival (months)</text>
<text x="70.3" y="679" font-size="10.2" textLength="99.6" lengthAdjust="spacingAndGlyphs" stroke="#1a1a1a" stroke-width="0.35">Cumulative number of censoring</text>
<text x="37.8" y="689.8" font-size="10.4" text-anchor="middle" fill="#3a3a3a" font-style="italic" textLength="24" lengthAdjust="spacingAndGlyphs" transform="rotate(-90 37.8 689.8)" stroke="#3a3a3a" stroke-width="0.05">Strata</text>
<line x1="54.2" y1="686.9" x2="58.8" y2="686.9" stroke="#cf1f3a" stroke-width="1.3"/>
<line x1="54.2" y1="693.9" x2="58.8" y2="693.9" stroke="#2a6198" stroke-width="1.3"/>
<line x1="61.1" y1="683" x2="61.1" y2="698.4" stroke="#333333" stroke-width="1.35"/>
<line x1="60.5" y1="697.8" x2="250.7" y2="697.8" stroke="#333333" stroke-width="1.35"/>
<text x="70" y="688.8" font-size="9" text-anchor="middle" fill="#cf1f3a" textLength="4.81" lengthAdjust="spacingAndGlyphs" stroke="#cf1f3a" stroke-width="0.1">0</text>
<text x="83.5" y="688.8" font-size="9" text-anchor="middle" fill="#cf1f3a" textLength="9.61" lengthAdjust="spacingAndGlyphs" stroke="#cf1f3a" stroke-width="0.1">13</text>
<text x="100" y="688.8" font-size="9" text-anchor="middle" fill="#cf1f3a" textLength="9.61" lengthAdjust="spacingAndGlyphs" stroke="#cf1f3a" stroke-width="0.1">43</text>
<text x="115.2" y="688.8" font-size="9" text-anchor="middle" fill="#cf1f3a" textLength="9.61" lengthAdjust="spacingAndGlyphs" stroke="#cf1f3a" stroke-width="0.1">97</text>
<text x="131.7" y="688.8" font-size="9" text-anchor="middle" fill="#cf1f3a" textLength="14.42" lengthAdjust="spacingAndGlyphs" stroke="#cf1f3a" stroke-width="0.1">158</text>
<text x="151" y="688.8" font-size="9" text-anchor="middle" fill="#cf1f3a" textLength="14.42" lengthAdjust="spacingAndGlyphs" stroke="#cf1f3a" stroke-width="0.1">203</text>
<text x="169.5" y="688.8" font-size="9" text-anchor="middle" fill="#cf1f3a" textLength="14.42" lengthAdjust="spacingAndGlyphs" stroke="#cf1f3a" stroke-width="0.1">254</text>
<text x="189.4" y="688.8" font-size="9" text-anchor="middle" fill="#cf1f3a" textLength="14.42" lengthAdjust="spacingAndGlyphs" stroke="#cf1f3a" stroke-width="0.1">276</text>
<text x="206.5" y="688.8" font-size="9" text-anchor="middle" fill="#cf1f3a" textLength="14.42" lengthAdjust="spacingAndGlyphs" stroke="#cf1f3a" stroke-width="0.1">290</text>
<text x="225.2" y="688.8" font-size="9" text-anchor="middle" fill="#cf1f3a" textLength="14.42" lengthAdjust="spacingAndGlyphs" stroke="#cf1f3a" stroke-width="0.1">312</text>
<text x="243.1" y="688.8" font-size="9" text-anchor="middle" fill="#cf1f3a" textLength="14.42" lengthAdjust="spacingAndGlyphs" stroke="#cf1f3a" stroke-width="0.1">317</text>
<text x="70" y="697" font-size="9" text-anchor="middle" fill="#2a6198" textLength="4.81" lengthAdjust="spacingAndGlyphs" stroke="#2a6198" stroke-width="0.1">0</text>
<text x="82.8" y="697" font-size="9" text-anchor="middle" fill="#2a6198" textLength="4.81" lengthAdjust="spacingAndGlyphs" stroke="#2a6198" stroke-width="0.1">0</text>
<text x="99.7" y="697" font-size="9" text-anchor="middle" fill="#2a6198" textLength="4.81" lengthAdjust="spacingAndGlyphs" stroke="#2a6198" stroke-width="0.1">0</text>
<text x="113.9" y="697" font-size="9" text-anchor="middle" fill="#2a6198" textLength="4.81" lengthAdjust="spacingAndGlyphs" stroke="#2a6198" stroke-width="0.1">0</text>
<text x="130.8" y="697" font-size="9" text-anchor="middle" fill="#2a6198" textLength="4.81" lengthAdjust="spacingAndGlyphs" stroke="#2a6198" stroke-width="0.1">0</text>
<text x="150" y="697" font-size="9" text-anchor="middle" fill="#2a6198" textLength="4.81" lengthAdjust="spacingAndGlyphs" stroke="#2a6198" stroke-width="0.1">1</text>
<text x="168.5" y="697" font-size="9" text-anchor="middle" fill="#2a6198" textLength="4.81" lengthAdjust="spacingAndGlyphs" stroke="#2a6198" stroke-width="0.1">2</text>
<text x="188.7" y="697" font-size="9" text-anchor="middle" fill="#2a6198" textLength="4.81" lengthAdjust="spacingAndGlyphs" stroke="#2a6198" stroke-width="0.1">2</text>
<text x="206.2" y="697" font-size="9" text-anchor="middle" fill="#2a6198" textLength="4.81" lengthAdjust="spacingAndGlyphs" stroke="#2a6198" stroke-width="0.1">2</text>
<text x="225.2" y="697" font-size="9" text-anchor="middle" fill="#2a6198" textLength="4.81" lengthAdjust="spacingAndGlyphs" stroke="#2a6198" stroke-width="0.1">2</text>
<text x="243.3" y="697" font-size="9" text-anchor="middle" fill="#2a6198" textLength="4.81" lengthAdjust="spacingAndGlyphs" stroke="#2a6198" stroke-width="0.1">2</text>
<line x1="66.2" y1="697.8" x2="66.2" y2="699.8" stroke="#333333" stroke-width="1"/>
<line x1="86.2" y1="697.8" x2="86.2" y2="699.8" stroke="#333333" stroke-width="1"/>
<line x1="105" y1="697.8" x2="105" y2="699.8" stroke="#333333" stroke-width="1"/>
<line x1="121" y1="697.8" x2="121" y2="699.8" stroke="#333333" stroke-width="1"/>
<line x1="136" y1="697.8" x2="136" y2="699.8" stroke="#333333" stroke-width="1"/>
<line x1="152" y1="697.8" x2="152" y2="699.8" stroke="#333333" stroke-width="1"/>
<line x1="172" y1="697.8" x2="172" y2="699.8" stroke="#333333" stroke-width="1"/>
<line x1="189" y1="697.8" x2="189" y2="699.8" stroke="#333333" stroke-width="1"/>
<line x1="207" y1="697.8" x2="207" y2="699.8" stroke="#333333" stroke-width="1"/>
<line x1="226" y1="697.8" x2="226" y2="699.8" stroke="#333333" stroke-width="1"/>
<line x1="247" y1="697.8" x2="247" y2="699.8" stroke="#333333" stroke-width="1"/>
<text x="69.3" y="708.3" font-size="9.2" text-anchor="middle" textLength="4.45" lengthAdjust="spacingAndGlyphs" stroke="#1a1a1a" stroke-width="0.2">0</text>
<text x="89.05" y="708.3" font-size="9.2" text-anchor="middle" textLength="8.9" lengthAdjust="spacingAndGlyphs" stroke="#1a1a1a" stroke-width="0.2">12</text>
<text x="105.45" y="708.3" font-size="9.2" text-anchor="middle" textLength="8.9" lengthAdjust="spacingAndGlyphs" stroke="#1a1a1a" stroke-width="0.2">24</text>
<text x="121" y="708.3" font-size="9.2" text-anchor="middle" textLength="8.9" lengthAdjust="spacingAndGlyphs" stroke="#1a1a1a" stroke-width="0.2">36</text>
<text x="136.85" y="708.3" font-size="9.2" text-anchor="middle" textLength="8.9" lengthAdjust="spacingAndGlyphs" stroke="#1a1a1a" stroke-width="0.2">48</text>
<text x="151.7" y="708.3" font-size="9.2" text-anchor="middle" textLength="8.9" lengthAdjust="spacingAndGlyphs" stroke="#1a1a1a" stroke-width="0.2">60</text>
<text x="172.15" y="708.3" font-size="9.2" text-anchor="middle" textLength="8.9" lengthAdjust="spacingAndGlyphs" stroke="#1a1a1a" stroke-width="0.2">72</text>
<text x="188.7" y="708.3" font-size="9.2" text-anchor="middle" textLength="8.9" lengthAdjust="spacingAndGlyphs" stroke="#1a1a1a" stroke-width="0.2">84</text>
<text x="206.9" y="708.3" font-size="9.2" text-anchor="middle" textLength="8.9" lengthAdjust="spacingAndGlyphs" stroke="#1a1a1a" stroke-width="0.2">96</text>
<text x="226.45" y="708.3" font-size="9.2" text-anchor="middle" textLength="13.35" lengthAdjust="spacingAndGlyphs" stroke="#1a1a1a" stroke-width="0.2">108</text>
<text x="246.7" y="708.3" font-size="9.2" text-anchor="middle" textLength="13.35" lengthAdjust="spacingAndGlyphs" stroke="#1a1a1a" stroke-width="0.2">120</text>
<text x="118.2" y="717.3" font-size="8.4" textLength="74.6" lengthAdjust="spacingAndGlyphs" stroke="#1a1a1a" stroke-width="0.35">overall survival (months)</text>
<text x="325" y="630" font-size="10.2" textLength="45.4" lengthAdjust="spacingAndGlyphs" stroke="#1a1a1a" stroke-width="0.35">Number at risk</text>
<text x="292.9" y="641.2" font-size="10.4" text-anchor="middle" fill="#3a3a3a" font-style="italic" textLength="24" lengthAdjust="spacingAndGlyphs" transform="rotate(-90 292.9 641.2)" stroke="#3a3a3a" stroke-width="0.05">Strata</text>
<line x1="308.8" y1="636.9" x2="314" y2="636.9" stroke="#cf1f3a" stroke-width="1.3"/>
<line x1="308.8" y1="644" x2="314" y2="644" stroke="#2a6198" stroke-width="1.3"/>
<line x1="316.6" y1="633" x2="316.6" y2="648.4" stroke="#333333" stroke-width="1.35"/>
<line x1="316" y1="647.8" x2="506" y2="647.8" stroke="#333333" stroke-width="1.35"/>
<text x="324.6" y="639.6" font-size="9" text-anchor="middle" fill="#cf1f3a" textLength="14.42" lengthAdjust="spacingAndGlyphs" stroke="#cf1f3a" stroke-width="0.1">325</text>
<text x="348.3" y="639.6" font-size="9" text-anchor="middle" fill="#cf1f3a" textLength="14.42" lengthAdjust="spacingAndGlyphs" stroke="#cf1f3a" stroke-width="0.1">212</text>
<text x="368.9" y="639.6" font-size="9" text-anchor="middle" fill="#cf1f3a" textLength="14.42" lengthAdjust="spacingAndGlyphs" stroke="#cf1f3a" stroke-width="0.1">166</text>
<text x="387.5" y="639.6" font-size="9" text-anchor="middle" fill="#cf1f3a" textLength="14.42" lengthAdjust="spacingAndGlyphs" stroke="#cf1f3a" stroke-width="0.1">118</text>
<text x="407.8" y="639.6" font-size="9" text-anchor="middle" fill="#cf1f3a" textLength="9.61" lengthAdjust="spacingAndGlyphs" stroke="#cf1f3a" stroke-width="0.1">79</text>
<text x="425.7" y="639.6" font-size="9" text-anchor="middle" fill="#cf1f3a" textLength="9.61" lengthAdjust="spacingAndGlyphs" stroke="#cf1f3a" stroke-width="0.1">47</text>
<text x="440" y="639.6" font-size="9" text-anchor="middle" fill="#cf1f3a" textLength="9.61" lengthAdjust="spacingAndGlyphs" stroke="#cf1f3a" stroke-width="0.1">23</text>
<text x="455.3" y="639.6" font-size="9" text-anchor="middle" fill="#cf1f3a" textLength="9.61" lengthAdjust="spacingAndGlyphs" stroke="#cf1f3a" stroke-width="0.1">13</text>
<text x="475.2" y="639.6" font-size="9" text-anchor="middle" fill="#cf1f3a" textLength="4.81" lengthAdjust="spacingAndGlyphs" stroke="#cf1f3a" stroke-width="0.1">8</text>
<text x="490.4" y="639.6" font-size="9" text-anchor="middle" fill="#cf1f3a" textLength="4.81" lengthAdjust="spacingAndGlyphs" stroke="#cf1f3a" stroke-width="0.1">4</text>
<text x="504.5" y="639.6" font-size="9" text-anchor="middle" fill="#cf1f3a" textLength="4.81" lengthAdjust="spacingAndGlyphs" stroke="#cf1f3a" stroke-width="0.1">0</text>
<text x="324" y="647.9" font-size="9" text-anchor="middle" fill="#2a6198" textLength="9.61" lengthAdjust="spacingAndGlyphs" stroke="#2a6198" stroke-width="0.1">10</text>
<text x="350" y="647.9" font-size="9" text-anchor="middle" fill="#2a6198" textLength="4.81" lengthAdjust="spacingAndGlyphs" stroke="#2a6198" stroke-width="0.1">4</text>
<text x="370.2" y="647.9" font-size="9" text-anchor="middle" fill="#2a6198" textLength="4.81" lengthAdjust="spacingAndGlyphs" stroke="#2a6198" stroke-width="0.1">3</text>
<text x="388.9" y="647.9" font-size="9" text-anchor="middle" fill="#2a6198" textLength="4.81" lengthAdjust="spacingAndGlyphs" stroke="#2a6198" stroke-width="0.1">2</text>
<text x="404.1" y="647.9" font-size="9" text-anchor="middle" fill="#2a6198" textLength="4.81" lengthAdjust="spacingAndGlyphs" stroke="#2a6198" stroke-width="0.1">0</text>
<text x="421.9" y="647.9" font-size="9" text-anchor="middle" fill="#2a6198" textLength="4.81" lengthAdjust="spacingAndGlyphs" stroke="#2a6198" stroke-width="0.1">0</text>
<text x="439.4" y="647.9" font-size="9" text-anchor="middle" fill="#2a6198" textLength="4.81" lengthAdjust="spacingAndGlyphs" stroke="#2a6198" stroke-width="0.1">0</text>
<text x="454.9" y="647.9" font-size="9" text-anchor="middle" fill="#2a6198" textLength="4.81" lengthAdjust="spacingAndGlyphs" stroke="#2a6198" stroke-width="0.1">0</text>
<text x="472.4" y="647.9" font-size="9" text-anchor="middle" fill="#2a6198" textLength="4.81" lengthAdjust="spacingAndGlyphs" stroke="#2a6198" stroke-width="0.1">0</text>
<text x="490.6" y="647.9" font-size="9" text-anchor="middle" fill="#2a6198" textLength="4.81" lengthAdjust="spacingAndGlyphs" stroke="#2a6198" stroke-width="0.1">0</text>
<text x="504.5" y="647.9" font-size="9" text-anchor="middle" fill="#2a6198" textLength="4.81" lengthAdjust="spacingAndGlyphs" stroke="#2a6198" stroke-width="0.1">0</text>
<line x1="327.7" y1="647.8" x2="327.7" y2="649.8" stroke="#333333" stroke-width="1"/>
<line x1="349" y1="647.8" x2="349" y2="649.8" stroke="#333333" stroke-width="1"/>
<line x1="369.3" y1="647.8" x2="369.3" y2="649.8" stroke="#333333" stroke-width="1"/>
<line x1="388.3" y1="647.8" x2="388.3" y2="649.8" stroke="#333333" stroke-width="1"/>
<line x1="407.7" y1="647.8" x2="407.7" y2="649.8" stroke="#333333" stroke-width="1"/>
<line x1="423.9" y1="647.8" x2="423.9" y2="649.8" stroke="#333333" stroke-width="1"/>
<line x1="442.8" y1="647.8" x2="442.8" y2="649.8" stroke="#333333" stroke-width="1"/>
<line x1="456.8" y1="647.8" x2="456.8" y2="649.8" stroke="#333333" stroke-width="1"/>
<line x1="473.8" y1="647.8" x2="473.8" y2="649.8" stroke="#333333" stroke-width="1"/>
<line x1="492.6" y1="647.8" x2="492.6" y2="649.8" stroke="#333333" stroke-width="1"/>
<line x1="506" y1="647.8" x2="506" y2="649.8" stroke="#333333" stroke-width="1"/>
<text x="325.2" y="657.7" font-size="9.2" text-anchor="middle" textLength="4.45" lengthAdjust="spacingAndGlyphs" stroke="#1a1a1a" stroke-width="0.2">0</text>
<text x="344.15" y="657.7" font-size="9.2" text-anchor="middle" textLength="8.9" lengthAdjust="spacingAndGlyphs" stroke="#1a1a1a" stroke-width="0.2">12</text>
<text x="364.45" y="657.7" font-size="9.2" text-anchor="middle" textLength="8.9" lengthAdjust="spacingAndGlyphs" stroke="#1a1a1a" stroke-width="0.2">24</text>
<text x="383.2" y="657.7" font-size="9.2" text-anchor="middle" textLength="8.9" lengthAdjust="spacingAndGlyphs" stroke="#1a1a1a" stroke-width="0.2">36</text>
<text x="402.35" y="657.7" font-size="9.2" text-anchor="middle" textLength="8.9" lengthAdjust="spacingAndGlyphs" stroke="#1a1a1a" stroke-width="0.2">48</text>
<text x="418.8" y="657.7" font-size="9.2" text-anchor="middle" textLength="8.9" lengthAdjust="spacingAndGlyphs" stroke="#1a1a1a" stroke-width="0.2">60</text>
<text x="437.65" y="657.7" font-size="9.2" text-anchor="middle" textLength="8.9" lengthAdjust="spacingAndGlyphs" stroke="#1a1a1a" stroke-width="0.2">72</text>
<text x="451.4" y="657.7" font-size="9.2" text-anchor="middle" textLength="8.9" lengthAdjust="spacingAndGlyphs" stroke="#1a1a1a" stroke-width="0.2">84</text>
<text x="468.4" y="657.7" font-size="9.2" text-anchor="middle" textLength="8.9" lengthAdjust="spacingAndGlyphs" stroke="#1a1a1a" stroke-width="0.2">96</text>
<text x="484.95" y="657.7" font-size="9.2" text-anchor="middle" textLength="13.35" lengthAdjust="spacingAndGlyphs" stroke="#1a1a1a" stroke-width="0.2">108</text>
<text x="503.35" y="657.7" font-size="9.2" text-anchor="middle" textLength="13.35" lengthAdjust="spacingAndGlyphs" stroke="#1a1a1a" stroke-width="0.2">120</text>
<text x="372.9" y="667.9" font-size="8.4" textLength="75.3" lengthAdjust="spacingAndGlyphs" stroke="#1a1a1a" stroke-width="0.35">overall survival (months)</text>
<text x="325" y="681.5" font-size="10.2" textLength="100.3" lengthAdjust="spacingAndGlyphs" stroke="#1a1a1a" stroke-width="0.35">Cumulative number of censoring</text>
<text x="292.9" y="692.2" font-size="10.4" text-anchor="middle" fill="#3a3a3a" font-style="italic" textLength="24" lengthAdjust="spacingAndGlyphs" transform="rotate(-90 292.9 692.2)" stroke="#3a3a3a" stroke-width="0.05">Strata</text>
<line x1="309.7" y1="688.6" x2="313.9" y2="688.6" stroke="#cf1f3a" stroke-width="1.3"/>
<line x1="309.7" y1="695" x2="313.9" y2="695" stroke="#2a6198" stroke-width="1.3"/>
<line x1="316.6" y1="684.6" x2="316.6" y2="700.9" stroke="#333333" stroke-width="1.35"/>
<line x1="316" y1="700.3" x2="506" y2="700.3" stroke="#333333" stroke-width="1.35"/>
<text x="325.1" y="690.9" font-size="9" text-anchor="middle" fill="#cf1f3a" textLength="4.81" lengthAdjust="spacingAndGlyphs" stroke="#cf1f3a" stroke-width="0.1">1</text>
<text x="340.4" y="690.9" font-size="9" text-anchor="middle" fill="#cf1f3a" textLength="4.81" lengthAdjust="spacingAndGlyphs" stroke="#cf1f3a" stroke-width="0.1">9</text>
<text x="355.4" y="690.9" font-size="9" text-anchor="middle" fill="#cf1f3a" textLength="9.61" lengthAdjust="spacingAndGlyphs" stroke="#cf1f3a" stroke-width="0.1">17</text>
<text x="370.2" y="690.9" font-size="9" text-anchor="middle" fill="#cf1f3a" textLength="9.61" lengthAdjust="spacingAndGlyphs" stroke="#cf1f3a" stroke-width="0.1">56</text>
<text x="389.2" y="690.9" font-size="9" text-anchor="middle" fill="#cf1f3a" textLength="9.61" lengthAdjust="spacingAndGlyphs" stroke="#cf1f3a" stroke-width="0.1">90</text>
<text x="405.1" y="690.9" font-size="9" text-anchor="middle" fill="#cf1f3a" textLength="14.42" lengthAdjust="spacingAndGlyphs" stroke="#cf1f3a" stroke-width="0.1">118</text>
<text x="424.6" y="690.9" font-size="9" text-anchor="middle" fill="#cf1f3a" textLength="14.42" lengthAdjust="spacingAndGlyphs" stroke="#cf1f3a" stroke-width="0.1">140</text>
<text x="444.8" y="690.9" font-size="9" text-anchor="middle" fill="#cf1f3a" textLength="14.42" lengthAdjust="spacingAndGlyphs" stroke="#cf1f3a" stroke-width="0.1">148</text>
<text x="463" y="690.9" font-size="9" text-anchor="middle" fill="#cf1f3a" textLength="14.42" lengthAdjust="spacingAndGlyphs" stroke="#cf1f3a" stroke-width="0.1">153</text>
<text x="481.2" y="690.9" font-size="9" text-anchor="middle" fill="#cf1f3a" textLength="14.42" lengthAdjust="spacingAndGlyphs" stroke="#cf1f3a" stroke-width="0.1">157</text>
<text x="499.4" y="690.9" font-size="9" text-anchor="middle" fill="#cf1f3a" textLength="14.42" lengthAdjust="spacingAndGlyphs" stroke="#cf1f3a" stroke-width="0.1">161</text>
<text x="325" y="699.5" font-size="9" text-anchor="middle" fill="#2a6198" textLength="4.81" lengthAdjust="spacingAndGlyphs" stroke="#2a6198" stroke-width="0.1">0</text>
<text x="338.8" y="699.5" font-size="9" text-anchor="middle" fill="#2a6198" textLength="4.81" lengthAdjust="spacingAndGlyphs" stroke="#2a6198" stroke-width="0.1">0</text>
<text x="355.4" y="699.5" font-size="9" text-anchor="middle" fill="#2a6198" textLength="4.81" lengthAdjust="spacingAndGlyphs" stroke="#2a6198" stroke-width="0.1">0</text>
<text x="369.3" y="699.5" font-size="9" text-anchor="middle" fill="#2a6198" textLength="4.81" lengthAdjust="spacingAndGlyphs" stroke="#2a6198" stroke-width="0.1">0</text>
<text x="386.5" y="699.5" font-size="9" text-anchor="middle" fill="#2a6198" textLength="4.81" lengthAdjust="spacingAndGlyphs" stroke="#2a6198" stroke-width="0.1">2</text>
<text x="405.1" y="699.5" font-size="9" text-anchor="middle" fill="#2a6198" textLength="4.81" lengthAdjust="spacingAndGlyphs" stroke="#2a6198" stroke-width="0.1">2</text>
<text x="424.2" y="699.5" font-size="9" text-anchor="middle" fill="#2a6198" textLength="4.81" lengthAdjust="spacingAndGlyphs" stroke="#2a6198" stroke-width="0.1">2</text>
<text x="443.5" y="699.5" font-size="9" text-anchor="middle" fill="#2a6198" textLength="4.81" lengthAdjust="spacingAndGlyphs" stroke="#2a6198" stroke-width="0.1">2</text>
<text x="461.7" y="699.5" font-size="9" text-anchor="middle" fill="#2a6198" textLength="4.81" lengthAdjust="spacingAndGlyphs" stroke="#2a6198" stroke-width="0.1">2</text>
<text x="479.8" y="699.5" font-size="9" text-anchor="middle" fill="#2a6198" textLength="4.81" lengthAdjust="spacingAndGlyphs" stroke="#2a6198" stroke-width="0.1">2</text>
<text x="499.4" y="699.5" font-size="9" text-anchor="middle" fill="#2a6198" textLength="4.81" lengthAdjust="spacingAndGlyphs" stroke="#2a6198" stroke-width="0.1">2</text>
<line x1="322" y1="700.3" x2="322" y2="702.3" stroke="#333333" stroke-width="1"/>
<line x1="343" y1="700.3" x2="343" y2="702.3" stroke="#333333" stroke-width="1"/>
<line x1="360" y1="700.3" x2="360" y2="702.3" stroke="#333333" stroke-width="1"/>
<line x1="376" y1="700.3" x2="376" y2="702.3" stroke="#333333" stroke-width="1"/>
<line x1="389" y1="700.3" x2="389" y2="702.3" stroke="#333333" stroke-width="1"/>
<line x1="406" y1="700.3" x2="406" y2="702.3" stroke="#333333" stroke-width="1"/>
<line x1="425" y1="700.3" x2="425" y2="702.3" stroke="#333333" stroke-width="1"/>
<line x1="444" y1="700.3" x2="444" y2="702.3" stroke="#333333" stroke-width="1"/>
<line x1="462" y1="700.3" x2="462" y2="702.3" stroke="#333333" stroke-width="1"/>
<line x1="484" y1="700.3" x2="484" y2="702.3" stroke="#333333" stroke-width="1"/>
<line x1="505" y1="700.3" x2="505" y2="702.3" stroke="#333333" stroke-width="1"/>
<text x="325" y="709.3" font-size="9.2" text-anchor="middle" textLength="4.45" lengthAdjust="spacingAndGlyphs" stroke="#1a1a1a" stroke-width="0.2">0</text>
<text x="343.65" y="709.3" font-size="9.2" text-anchor="middle" textLength="8.9" lengthAdjust="spacingAndGlyphs" stroke="#1a1a1a" stroke-width="0.2">12</text>
<text x="360.85" y="709.3" font-size="9.2" text-anchor="middle" textLength="8.9" lengthAdjust="spacingAndGlyphs" stroke="#1a1a1a" stroke-width="0.2">24</text>
<text x="376.25" y="709.3" font-size="9.2" text-anchor="middle" textLength="8.9" lengthAdjust="spacingAndGlyphs" stroke="#1a1a1a" stroke-width="0.2">36</text>
<text x="388.9" y="709.3" font-size="9.2" text-anchor="middle" textLength="8.9" lengthAdjust="spacingAndGlyphs" stroke="#1a1a1a" stroke-width="0.2">48</text>
<text x="406.8" y="709.3" font-size="9.2" text-anchor="middle" textLength="8.9" lengthAdjust="spacingAndGlyphs" stroke="#1a1a1a" stroke-width="0.2">60</text>
<text x="425.25" y="709.3" font-size="9.2" text-anchor="middle" textLength="8.9" lengthAdjust="spacingAndGlyphs" stroke="#1a1a1a" stroke-width="0.2">72</text>
<text x="444.1" y="709.3" font-size="9.2" text-anchor="middle" textLength="8.9" lengthAdjust="spacingAndGlyphs" stroke="#1a1a1a" stroke-width="0.2">84</text>
<text x="461.9" y="709.3" font-size="9.2" text-anchor="middle" textLength="8.9" lengthAdjust="spacingAndGlyphs" stroke="#1a1a1a" stroke-width="0.2">96</text>
<text x="483.9" y="709.3" font-size="9.2" text-anchor="middle" textLength="13.35" lengthAdjust="spacingAndGlyphs" stroke="#1a1a1a" stroke-width="0.2">108</text>
<text x="504.4" y="709.3" font-size="9.2" text-anchor="middle" textLength="13.35" lengthAdjust="spacingAndGlyphs" stroke="#1a1a1a" stroke-width="0.2">120</text>
<text x="369.9" y="720" font-size="10.2" textLength="85.8" lengthAdjust="spacingAndGlyphs" stroke="#1a1a1a" stroke-width="0.35">Event-free survival (months)</text>
<text x="6.4" y="16.8" font-size="14" fill="#000" font-weight="bold" textLength="8.4" lengthAdjust="spacingAndGlyphs" stroke="#000" stroke-width="0.5">A</text>
<text x="7.1" y="266.8" font-size="14" fill="#000" font-weight="bold" textLength="7.4" lengthAdjust="spacingAndGlyphs" stroke="#000" stroke-width="0.5">B</text>
<text x="6.8" y="517" font-size="14" fill="#000" font-weight="bold" textLength="7.7" lengthAdjust="spacingAndGlyphs" stroke="#000" stroke-width="0.5">C</text>
</svg>
</body></html>
